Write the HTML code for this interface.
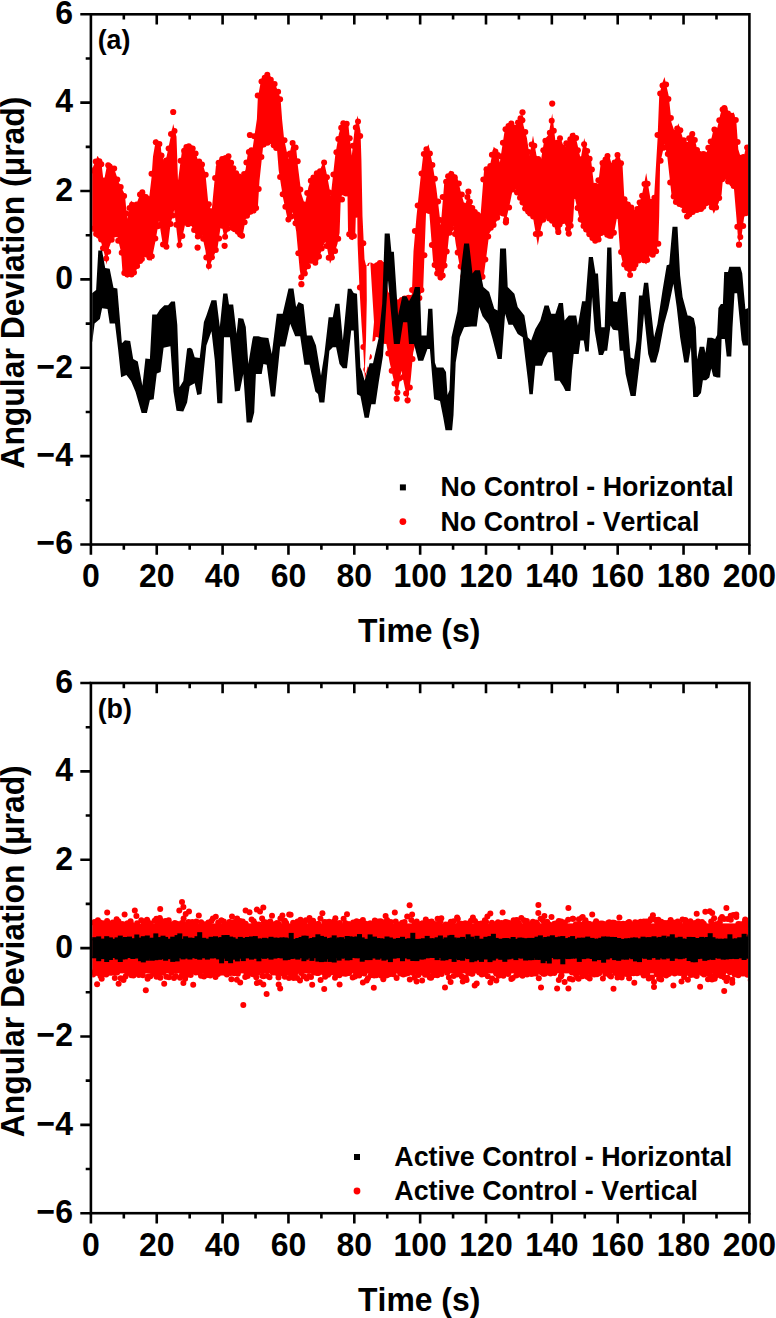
<!DOCTYPE html>
<html><head><meta charset="utf-8"><title>Angular Deviation</title>
<style>html,body{margin:0;padding:0;background:#fff;width:776px;height:1318px;overflow:hidden}svg{display:block}text{font-family:"Liberation Sans",sans-serif;font-weight:bold;fill:#000;font-kerning:none}</style>
</head><body>
<svg width="776" height="1318" viewBox="0 0 776 1318">
<rect width="776" height="1318" fill="#fff"/>
<defs><clipPath id="ca"><rect x="92.2" y="15.6" width="655.9" height="527.6"/></clipPath>
<clipPath id="cb"><rect x="92.2" y="684.3" width="655.9" height="527.6"/></clipPath></defs>
<g clip-path="url(#ca)">
<path d="M91.5 168.7L92.3 168.7L97.6 155.8L101.4 162.6L103.7 182.3L107.5 162.6L113.5 166.4L118.8 182.3L124.9 194.5L127.2 218.8L131.0 200.6L135.5 206.6L141.6 189.9L149.2 197.5L151.5 177.8L153.0 156.5L156.0 139.1L160.6 143.7L161.3 152.0L164.4 162.6L166.6 156.5L169.7 141.4L173.2 123.9L176.5 136.8L178.0 180.8L181.8 152.0L184.8 145.2L190.0 144.4L193.2 145.9L197.6 159.0L202.0 161.6L205.4 173.0L208.1 200.9L211.6 211.4L215.9 166.0L219.4 159.0L224.6 155.5L229.0 154.7L231.6 162.5L236.9 173.0L242.1 178.2L245.6 169.5L248.2 150.3L252.6 148.5L256.9 118.9L257.8 97.9L261.3 78.7L268.3 72.6L275.2 84.0L280.5 97.9L282.2 120.6L284.0 138.1L288.3 159.0L292.7 139.8L296.2 148.5L297.9 166.0L301.4 193.9L304.9 204.4L308.4 186.9L311.9 176.5L317.1 173.0L318.6 173.0L323.9 160.8L327.3 176.5L330.8 195.7L335.2 155.5L338.7 134.6L342.2 121.5L348.3 123.2L349.2 132.8L351.8 155.5L354.4 131.1L357.5 115.4L360.5 131.1L361.4 159.0L362.5 216.3L364.5 259.3L366.5 267.3L368.5 267.3L370.3 263.3L373.4 265.3L381.7 260.3L384.0 263.3L388.0 291.3L393.0 301.3L398.4 300.3L404.0 297.3L409.0 295.3L411.8 294.8L413.5 251.3L416.5 216.3L420.7 176.3L423.3 153.8L428.5 144.2L432.9 166.0L436.4 188.7L438.1 202.6L440.8 225.3L444.2 183.4L446.0 180.0L450.1 170.4L457.1 176.5L461.4 193.9L464.9 206.1L468.4 193.0L471.0 203.5L476.3 211.4L480.6 214.8L484.1 169.5L490.2 164.3L493.7 146.8L497.2 150.3L499.8 162.5L505.1 127.6L510.3 120.6L515.5 125.9L522.5 113.6L523.4 125.0L526.9 138.1L529.5 155.5L533.0 135.5L536.5 155.5L540.8 160.8L544.3 139.8L548.7 134.6L552.2 113.6L555.7 143.3L560.0 136.3L564.4 148.5L568.8 138.1L573.1 132.8L574.6 132.8L577.2 143.3L580.7 159.0L584.2 138.1L587.7 152.0L591.2 160.8L593.8 183.4L598.2 183.4L600.8 162.5L608.6 152.9L612.1 166.0L618.2 152.0L622.6 166.0L624.3 197.4L631.3 206.1L635.7 211.4L641.8 195.7L646.2 173.0L650.5 199.1L654.0 199.1L657.5 139.8L659.2 96.2L661.9 84.0L664.5 77.0L668.8 96.2L671.5 122.4L675.0 132.8L678.4 123.3L682.8 138.1L687.2 145.1L690.0 132.6L693.2 131.3L695.2 140.3L697.1 149.3L699.7 153.2L702.9 151.9L706.1 153.2L709.3 145.4L711.9 136.4L713.8 127.4L717.1 128.7L719.7 117.1L722.2 106.8L727.4 107.4L728.7 114.5L733.8 112.6L736.4 122.2L738.3 149.3L740.3 155.8L744.1 155.8L745.4 149.3L748.2 148.0L748.2 215.0L746.7 212.5L744.1 217.6L741.6 235.7L739.0 243.4L737.7 234.4L736.4 217.6L733.8 186.7L728.7 184.1L724.8 177.7L722.9 178.9L721.6 194.4L718.4 203.4L713.8 213.7L711.3 207.3L706.8 203.4L701.6 210.5L695.2 212.5L690.0 216.3L687.2 215.7L681.9 207.0L675.8 203.5L671.5 194.8L667.1 154.7L664.5 144.2L660.1 163.4L659.2 215.7L658.4 241.9L654.9 257.6L650.5 254.1L646.2 264.6L641.8 259.4L634.8 267.2L629.6 274.2L623.5 266.3L620.0 250.6L617.4 215.7L613.0 238.4L607.8 238.4L603.4 231.4L598.2 241.9L593.8 241.9L587.7 234.9L579.9 221.0L574.6 196.5L573.1 221.0L568.8 232.3L562.7 219.2L558.3 230.6L552.2 222.7L545.2 215.7L541.2 227.1L537.8 245.5L533.0 217.5L526.0 212.2L519.0 198.3L513.8 184.3L510.3 201.8L505.9 221.0L501.6 212.2L494.3 225.4L489.2 233.8L486.7 253.9L483.4 279.0L476.0 281.7L470.0 283.7L465.8 289.1L459.9 267.3L455.7 243.7L453.2 225.7L449.0 235.7L446.5 260.7L441.8 280.7L436.4 274.7L433.0 260.7L429.0 208.7L426.0 213.7L423.2 288.7L419.9 295.8L416.5 339.3L413.2 352.7L410.7 379.7L407.6 400.7L404.0 383.7L401.4 370.7L396.7 398.7L394.7 384.6L389.7 362.8L386.4 344.3L383.0 338.7L376.0 333.7L371.7 340.7L367.0 368.7L365.0 380.7L363.5 353.7L361.5 323.7L359.5 288.7L357.6 243.7L357.3 216.7L355.8 216.7L355.3 234.7L352.8 240.2L350.0 238.7L348.0 230.7L347.5 196.7L345.5 192.7L342.0 194.7L340.6 203.3L339.6 233.0L337.5 243.7L334.2 254.2L333.4 255.9L330.0 263.7L325.6 240.2L321.0 252.2L317.1 264.6L310.1 262.0L306.7 270.7L301.4 279.7L299.7 269.8L296.2 231.4L292.7 212.2L288.3 222.7L283.1 198.3L278.7 170.4L277.0 149.4L270.0 142.5L263.0 147.7L259.5 180.8L257.8 208.8L252.6 212.2L245.6 219.2L242.1 239.3L235.1 231.4L229.9 226.2L224.6 238.7L221.2 222.7L217.7 247.1L211.6 261.1L208.1 270.7L205.4 250.6L202.0 234.9L197.6 238.7L195.0 233.2L190.0 222.2L185.6 222.2L182.6 235.9L178.8 249.5L174.2 210.1L170.4 225.3L167.4 249.5L162.8 245.0L159.0 220.7L155.3 242.0L151.5 260.9L145.4 255.6L140.1 263.2L134.0 274.6L127.2 277.6L122.6 273.8L121.1 252.6L117.3 236.6L112.8 237.4L109.0 248.0L106.7 264.7L104.4 254.1L100.6 240.4L96.8 235.9L92.3 229.8L91.5 229.7Z" fill="#f00"/>
<g fill="#f00"><circle cx="92.8" cy="170.4" r="3"/><circle cx="95.7" cy="161.6" r="3"/><circle cx="99.4" cy="161.2" r="3"/><circle cx="101.3" cy="164.2" r="3"/><circle cx="104.1" cy="180.4" r="3"/><circle cx="108.2" cy="165.3" r="3"/><circle cx="109.7" cy="166.5" r="3"/><circle cx="114.2" cy="168.5" r="3"/><circle cx="117.3" cy="179.4" r="3"/><circle cx="120.7" cy="187.1" r="3"/><circle cx="124.1" cy="195.9" r="3"/><circle cx="126.4" cy="213.4" r="3"/><circle cx="129.5" cy="208.1" r="3"/><circle cx="132.0" cy="204.8" r="3"/><circle cx="135.6" cy="208.4" r="3"/><circle cx="136.6" cy="204.6" r="3"/><circle cx="140.0" cy="194.5" r="3"/><circle cx="142.3" cy="192.3" r="3"/><circle cx="145.8" cy="197.0" r="3"/><circle cx="148.2" cy="198.9" r="3"/><circle cx="151.5" cy="173.7" r="3"/><circle cx="155.8" cy="142.2" r="3"/><circle cx="159.4" cy="144.1" r="3"/><circle cx="161.5" cy="155.6" r="3"/><circle cx="163.8" cy="164.1" r="3"/><circle cx="166.1" cy="160.4" r="3"/><circle cx="168.6" cy="148.6" r="3"/><circle cx="171.0" cy="133.9" r="3"/><circle cx="174.5" cy="130.9" r="3"/><circle cx="177.6" cy="182.8" r="3"/><circle cx="180.6" cy="160.8" r="3"/><circle cx="184.1" cy="150.8" r="3"/><circle cx="186.4" cy="146.9" r="3"/><circle cx="188.8" cy="146.3" r="3"/><circle cx="192.7" cy="148.5" r="3"/><circle cx="195.6" cy="153.5" r="3"/><circle cx="199.2" cy="161.5" r="3"/><circle cx="202.0" cy="164.4" r="3"/><circle cx="205.7" cy="174.8" r="3"/><circle cx="208.8" cy="204.2" r="3"/><circle cx="211.5" cy="211.2" r="3"/><circle cx="215.1" cy="178.1" r="3"/><circle cx="218.6" cy="162.7" r="3"/><circle cx="222.2" cy="159.0" r="3"/><circle cx="225.1" cy="158.3" r="3"/><circle cx="228.5" cy="156.2" r="3"/><circle cx="231.1" cy="162.7" r="3"/><circle cx="233.4" cy="168.2" r="3"/><circle cx="236.1" cy="173.3" r="3"/><circle cx="239.2" cy="176.4" r="3"/><circle cx="242.6" cy="178.8" r="3"/><circle cx="244.1" cy="174.1" r="3"/><circle cx="246.4" cy="162.6" r="3"/><circle cx="248.9" cy="151.9" r="3"/><circle cx="251.4" cy="150.2" r="3"/><circle cx="254.2" cy="136.2" r="3"/><circle cx="257.7" cy="95.4" r="3"/><circle cx="261.5" cy="81.5" r="3"/><circle cx="264.7" cy="77.7" r="3"/><circle cx="267.3" cy="74.8" r="3"/><circle cx="270.8" cy="79.8" r="3"/><circle cx="274.6" cy="83.9" r="3"/><circle cx="278.1" cy="91.7" r="3"/><circle cx="280.1" cy="99.3" r="3"/><circle cx="284.5" cy="140.3" r="3"/><circle cx="287.2" cy="155.0" r="3"/><circle cx="289.9" cy="153.6" r="3"/><circle cx="292.6" cy="142.9" r="3"/><circle cx="295.6" cy="147.6" r="3"/><circle cx="297.7" cy="161.3" r="3"/><circle cx="300.3" cy="189.5" r="3"/><circle cx="304.4" cy="204.6" r="3"/><circle cx="307.2" cy="193.1" r="3"/><circle cx="310.8" cy="180.8" r="3"/><circle cx="313.4" cy="177.4" r="3"/><circle cx="316.8" cy="173.2" r="3"/><circle cx="320.0" cy="171.3" r="3"/><circle cx="324.1" cy="162.6" r="3"/><circle cx="326.9" cy="177.2" r="3"/><circle cx="329.5" cy="192.5" r="3"/><circle cx="333.4" cy="174.6" r="3"/><circle cx="336.4" cy="152.2" r="3"/><circle cx="338.3" cy="139.1" r="3"/><circle cx="341.2" cy="127.8" r="3"/><circle cx="343.3" cy="123.2" r="3"/><circle cx="346.7" cy="123.7" r="3"/><circle cx="349.7" cy="138.2" r="3"/><circle cx="352.8" cy="145.7" r="3"/><circle cx="355.8" cy="127.4" r="3"/><circle cx="358.0" cy="121.5" r="3"/><circle cx="360.2" cy="136.1" r="3"/><circle cx="363.3" cy="243.2" r="3"/><circle cx="366.4" cy="268.6" r="3"/><circle cx="370.3" cy="265.4" r="3"/><circle cx="372.8" cy="266.8" r="3"/><circle cx="375.4" cy="266.3" r="3"/><circle cx="377.5" cy="265.1" r="3"/><circle cx="379.9" cy="262.9" r="3"/><circle cx="383.7" cy="264.9" r="3"/><circle cx="385.4" cy="276.5" r="3"/><circle cx="389.6" cy="295.8" r="3"/><circle cx="391.0" cy="300.4" r="3"/><circle cx="394.7" cy="303.2" r="3"/><circle cx="398.4" cy="302.3" r="3"/><circle cx="401.8" cy="300.1" r="3"/><circle cx="404.7" cy="298.6" r="3"/><circle cx="408.5" cy="297.7" r="3"/><circle cx="412.1" cy="290.1" r="3"/><circle cx="414.9" cy="231.0" r="3"/><circle cx="417.7" cy="205.4" r="3"/><circle cx="421.5" cy="173.6" r="3"/><circle cx="423.8" cy="153.9" r="3"/><circle cx="426.4" cy="149.2" r="3"/><circle cx="429.9" cy="153.4" r="3"/><circle cx="432.4" cy="165.0" r="3"/><circle cx="434.9" cy="178.8" r="3"/><circle cx="438.1" cy="201.5" r="3"/><circle cx="440.1" cy="220.0" r="3"/><circle cx="442.7" cy="196.9" r="3"/><circle cx="446.1" cy="181.8" r="3"/><circle cx="448.1" cy="176.2" r="3"/><circle cx="451.3" cy="174.1" r="3"/><circle cx="454.7" cy="177.3" r="3"/><circle cx="458.8" cy="183.5" r="3"/><circle cx="461.8" cy="194.6" r="3"/><circle cx="463.8" cy="205.5" r="3"/><circle cx="467.4" cy="197.0" r="3"/><circle cx="469.9" cy="201.8" r="3"/><circle cx="472.3" cy="207.9" r="3"/><circle cx="474.8" cy="212.0" r="3"/><circle cx="477.4" cy="214.4" r="3"/><circle cx="479.8" cy="216.2" r="3"/><circle cx="483.3" cy="179.4" r="3"/><circle cx="486.5" cy="169.3" r="3"/><circle cx="490.3" cy="166.1" r="3"/><circle cx="491.9" cy="154.7" r="3"/><circle cx="495.4" cy="151.4" r="3"/><circle cx="497.8" cy="155.0" r="3"/><circle cx="501.1" cy="156.5" r="3"/><circle cx="502.9" cy="142.7" r="3"/><circle cx="505.5" cy="129.3" r="3"/><circle cx="508.5" cy="126.1" r="3"/><circle cx="511.4" cy="123.4" r="3"/><circle cx="514.7" cy="127.7" r="3"/><circle cx="518.0" cy="122.5" r="3"/><circle cx="520.5" cy="118.2" r="3"/><circle cx="522.4" cy="120.3" r="3"/><circle cx="525.3" cy="132.0" r="3"/><circle cx="528.6" cy="151.9" r="3"/><circle cx="531.6" cy="144.5" r="3"/><circle cx="534.3" cy="145.8" r="3"/><circle cx="538.2" cy="159.0" r="3"/><circle cx="540.0" cy="161.5" r="3"/><circle cx="543.3" cy="150.2" r="3"/><circle cx="545.4" cy="140.8" r="3"/><circle cx="549.8" cy="132.8" r="3"/><circle cx="551.7" cy="120.8" r="3"/><circle cx="553.8" cy="130.8" r="3"/><circle cx="556.8" cy="142.7" r="3"/><circle cx="560.0" cy="138.3" r="3"/><circle cx="562.9" cy="147.4" r="3"/><circle cx="566.3" cy="143.3" r="3"/><circle cx="570.3" cy="139.3" r="3"/><circle cx="572.7" cy="135.7" r="3"/><circle cx="576.1" cy="138.1" r="3"/><circle cx="577.9" cy="150.3" r="3"/><circle cx="581.1" cy="159.3" r="3"/><circle cx="584.1" cy="144.2" r="3"/><circle cx="587.2" cy="151.1" r="3"/><circle cx="589.6" cy="158.8" r="3"/><circle cx="591.9" cy="169.5" r="3"/><circle cx="594.9" cy="185.8" r="3"/><circle cx="598.4" cy="180.2" r="3"/><circle cx="602.5" cy="163.1" r="3"/><circle cx="605.5" cy="159.5" r="3"/><circle cx="607.5" cy="155.9" r="3"/><circle cx="611.0" cy="165.8" r="3"/><circle cx="614.6" cy="162.5" r="3"/><circle cx="617.5" cy="155.0" r="3"/><circle cx="621.0" cy="163.3" r="3"/><circle cx="624.5" cy="199.3" r="3"/><circle cx="627.9" cy="204.5" r="3"/><circle cx="631.3" cy="207.4" r="3"/><circle cx="634.6" cy="212.8" r="3"/><circle cx="637.3" cy="208.9" r="3"/><circle cx="639.6" cy="202.6" r="3"/><circle cx="642.1" cy="195.8" r="3"/><circle cx="644.5" cy="184.0" r="3"/><circle cx="647.6" cy="183.8" r="3"/><circle cx="651.4" cy="201.9" r="3"/><circle cx="654.4" cy="197.7" r="3"/><circle cx="657.5" cy="135.1" r="3"/><circle cx="660.2" cy="93.6" r="3"/><circle cx="662.5" cy="85.6" r="3"/><circle cx="666.1" cy="84.6" r="3"/><circle cx="668.4" cy="99.0" r="3"/><circle cx="670.9" cy="118.1" r="3"/><circle cx="674.0" cy="132.7" r="3"/><circle cx="677.2" cy="128.6" r="3"/><circle cx="680.3" cy="130.3" r="3"/><circle cx="683.7" cy="140.3" r="3"/><circle cx="685.9" cy="144.5" r="3"/><circle cx="689.1" cy="138.2" r="3"/><circle cx="692.3" cy="134.0" r="3"/><circle cx="694.8" cy="140.1" r="3"/><circle cx="697.0" cy="150.0" r="3"/><circle cx="699.0" cy="153.7" r="3"/><circle cx="703.2" cy="154.0" r="3"/><circle cx="704.5" cy="154.4" r="3"/><circle cx="708.3" cy="147.8" r="3"/><circle cx="710.7" cy="141.4" r="3"/><circle cx="714.4" cy="129.6" r="3"/><circle cx="717.3" cy="130.8" r="3"/><circle cx="719.3" cy="120.3" r="3"/><circle cx="722.6" cy="109.5" r="3"/><circle cx="724.4" cy="108.1" r="3"/><circle cx="728.0" cy="113.6" r="3"/><circle cx="731.5" cy="115.8" r="3"/><circle cx="735.8" cy="119.9" r="3"/><circle cx="737.6" cy="142.1" r="3"/><circle cx="739.9" cy="157.7" r="3"/><circle cx="743.4" cy="156.9" r="3"/><circle cx="747.1" cy="147.4" r="3"/><circle cx="92.9" cy="228.8" r="3"/><circle cx="96.1" cy="234.0" r="3"/><circle cx="98.9" cy="235.7" r="3"/><circle cx="101.1" cy="239.6" r="3"/><circle cx="103.0" cy="248.2" r="3"/><circle cx="106.2" cy="258.5" r="3"/><circle cx="108.2" cy="251.7" r="3"/><circle cx="111.7" cy="239.7" r="3"/><circle cx="113.5" cy="234.8" r="3"/><circle cx="116.6" cy="234.2" r="3"/><circle cx="118.2" cy="240.8" r="3"/><circle cx="121.7" cy="252.7" r="3"/><circle cx="124.3" cy="272.9" r="3"/><circle cx="127.3" cy="274.5" r="3"/><circle cx="131.5" cy="274.6" r="3"/><circle cx="134.0" cy="272.4" r="3"/><circle cx="137.1" cy="266.0" r="3"/><circle cx="140.1" cy="261.1" r="3"/><circle cx="141.9" cy="259.0" r="3"/><circle cx="146.3" cy="254.6" r="3"/><circle cx="149.4" cy="257.5" r="3"/><circle cx="151.8" cy="256.2" r="3"/><circle cx="155.3" cy="238.5" r="3"/><circle cx="157.9" cy="226.3" r="3"/><circle cx="159.8" cy="225.0" r="3"/><circle cx="163.0" cy="244.5" r="3"/><circle cx="166.4" cy="246.7" r="3"/><circle cx="170.6" cy="224.0" r="3"/><circle cx="172.7" cy="215.4" r="3"/><circle cx="176.3" cy="224.8" r="3"/><circle cx="179.5" cy="245.0" r="3"/><circle cx="182.3" cy="236.1" r="3"/><circle cx="185.6" cy="220.3" r="3"/><circle cx="187.9" cy="219.4" r="3"/><circle cx="191.1" cy="223.2" r="3"/><circle cx="194.1" cy="230.0" r="3"/><circle cx="197.8" cy="236.4" r="3"/><circle cx="199.7" cy="235.4" r="3"/><circle cx="203.2" cy="238.7" r="3"/><circle cx="206.3" cy="257.6" r="3"/><circle cx="208.9" cy="266.1" r="3"/><circle cx="211.9" cy="257.3" r="3"/><circle cx="215.8" cy="250.1" r="3"/><circle cx="219.1" cy="238.4" r="3"/><circle cx="222.2" cy="225.7" r="3"/><circle cx="225.1" cy="236.7" r="3"/><circle cx="227.5" cy="228.8" r="3"/><circle cx="230.4" cy="223.5" r="3"/><circle cx="232.6" cy="228.0" r="3"/><circle cx="234.6" cy="229.2" r="3"/><circle cx="237.8" cy="231.8" r="3"/><circle cx="240.1" cy="234.5" r="3"/><circle cx="242.1" cy="235.8" r="3"/><circle cx="244.6" cy="222.3" r="3"/><circle cx="247.0" cy="215.7" r="3"/><circle cx="250.5" cy="211.8" r="3"/><circle cx="253.6" cy="210.6" r="3"/><circle cx="256.1" cy="208.1" r="3"/><circle cx="258.7" cy="189.0" r="3"/><circle cx="261.4" cy="157.0" r="3"/><circle cx="263.7" cy="144.5" r="3"/><circle cx="267.5" cy="142.8" r="3"/><circle cx="270.4" cy="141.0" r="3"/><circle cx="273.7" cy="145.2" r="3"/><circle cx="276.2" cy="147.9" r="3"/><circle cx="280.1" cy="177.0" r="3"/><circle cx="282.7" cy="194.2" r="3"/><circle cx="285.4" cy="206.8" r="3"/><circle cx="288.4" cy="219.5" r="3"/><circle cx="291.4" cy="216.5" r="3"/><circle cx="295.5" cy="223.2" r="3"/><circle cx="298.3" cy="253.2" r="3"/><circle cx="301.3" cy="277.2" r="3"/><circle cx="304.8" cy="273.4" r="3"/><circle cx="308.0" cy="266.3" r="3"/><circle cx="310.6" cy="260.7" r="3"/><circle cx="312.5" cy="260.4" r="3"/><circle cx="315.3" cy="262.7" r="3"/><circle cx="319.0" cy="256.5" r="3"/><circle cx="321.7" cy="248.6" r="3"/><circle cx="325.0" cy="239.7" r="3"/><circle cx="326.6" cy="246.0" r="3"/><circle cx="328.7" cy="257.7" r="3"/><circle cx="331.9" cy="257.5" r="3"/><circle cx="335.1" cy="251.1" r="3"/><circle cx="338.2" cy="238.8" r="3"/><circle cx="342.0" cy="199.4" r="3"/><circle cx="343.4" cy="192.5" r="3"/><circle cx="346.0" cy="193.6" r="3"/><circle cx="349.2" cy="234.3" r="3"/><circle cx="351.8" cy="236.7" r="3"/><circle cx="353.9" cy="235.9" r="3"/><circle cx="356.2" cy="214.8" r="3"/><circle cx="359.9" cy="287.6" r="3"/><circle cx="363.4" cy="347.0" r="3"/><circle cx="366.3" cy="369.6" r="3"/><circle cx="368.9" cy="356.7" r="3"/><circle cx="372.5" cy="338.6" r="3"/><circle cx="374.7" cy="334.5" r="3"/><circle cx="377.0" cy="334.1" r="3"/><circle cx="379.7" cy="335.0" r="3"/><circle cx="382.3" cy="336.9" r="3"/><circle cx="385.1" cy="341.0" r="3"/><circle cx="388.3" cy="353.5" r="3"/><circle cx="391.7" cy="370.8" r="3"/><circle cx="394.5" cy="383.4" r="3"/><circle cx="397.4" cy="392.4" r="3"/><circle cx="399.3" cy="378.4" r="3"/><circle cx="403.4" cy="377.1" r="3"/><circle cx="406.1" cy="393.6" r="3"/><circle cx="409.8" cy="387.5" r="3"/><circle cx="412.5" cy="359.0" r="3"/><circle cx="415.3" cy="342.8" r="3"/><circle cx="417.2" cy="325.0" r="3"/><circle cx="419.4" cy="298.0" r="3"/><circle cx="421.4" cy="290.1" r="3"/><circle cx="424.4" cy="255.3" r="3"/><circle cx="426.8" cy="210.1" r="3"/><circle cx="429.1" cy="211.1" r="3"/><circle cx="431.9" cy="244.9" r="3"/><circle cx="434.6" cy="265.0" r="3"/><circle cx="437.2" cy="273.5" r="3"/><circle cx="440.5" cy="277.6" r="3"/><circle cx="442.7" cy="275.4" r="3"/><circle cx="444.5" cy="265.4" r="3"/><circle cx="446.7" cy="251.6" r="3"/><circle cx="449.5" cy="232.8" r="3"/><circle cx="451.2" cy="228.2" r="3"/><circle cx="455.0" cy="234.0" r="3"/><circle cx="457.7" cy="252.6" r="3"/><circle cx="460.7" cy="266.6" r="3"/><circle cx="463.4" cy="276.2" r="3"/><circle cx="465.3" cy="286.0" r="3"/><circle cx="468.8" cy="282.6" r="3"/><circle cx="471.2" cy="281.5" r="3"/><circle cx="473.9" cy="280.3" r="3"/><circle cx="476.8" cy="282.8" r="3"/><circle cx="479.1" cy="278.6" r="3"/><circle cx="482.5" cy="276.8" r="3"/><circle cx="485.3" cy="259.6" r="3"/><circle cx="488.2" cy="236.5" r="3"/><circle cx="490.8" cy="227.8" r="3"/><circle cx="493.6" cy="225.0" r="3"/><circle cx="497.2" cy="217.7" r="3"/><circle cx="500.3" cy="212.4" r="3"/><circle cx="503.0" cy="213.4" r="3"/><circle cx="506.1" cy="219.8" r="3"/><circle cx="509.1" cy="207.6" r="3"/><circle cx="512.7" cy="189.5" r="3"/><circle cx="515.1" cy="186.6" r="3"/><circle cx="517.0" cy="192.4" r="3"/><circle cx="520.0" cy="197.8" r="3"/><circle cx="522.5" cy="202.4" r="3"/><circle cx="525.1" cy="208.4" r="3"/><circle cx="528.1" cy="211.6" r="3"/><circle cx="530.0" cy="213.5" r="3"/><circle cx="533.2" cy="216.4" r="3"/><circle cx="535.8" cy="234.1" r="3"/><circle cx="540.0" cy="233.7" r="3"/><circle cx="543.2" cy="219.8" r="3"/><circle cx="546.3" cy="215.7" r="3"/><circle cx="549.1" cy="218.6" r="3"/><circle cx="552.0" cy="220.7" r="3"/><circle cx="555.0" cy="224.4" r="3"/><circle cx="557.8" cy="227.9" r="3"/><circle cx="559.6" cy="224.6" r="3"/><circle cx="561.9" cy="221.3" r="3"/><circle cx="564.0" cy="220.8" r="3"/><circle cx="568.0" cy="229.0" r="3"/><circle cx="570.7" cy="225.7" r="3"/><circle cx="574.5" cy="195.9" r="3"/><circle cx="577.6" cy="208.1" r="3"/><circle cx="580.7" cy="219.6" r="3"/><circle cx="583.5" cy="226.1" r="3"/><circle cx="586.1" cy="229.5" r="3"/><circle cx="589.3" cy="234.2" r="3"/><circle cx="592.4" cy="237.9" r="3"/><circle cx="595.2" cy="240.8" r="3"/><circle cx="598.6" cy="239.6" r="3"/><circle cx="601.2" cy="233.1" r="3"/><circle cx="605.4" cy="232.3" r="3"/><circle cx="607.2" cy="234.8" r="3"/><circle cx="610.5" cy="235.8" r="3"/><circle cx="613.9" cy="232.7" r="3"/><circle cx="617.6" cy="215.9" r="3"/><circle cx="621.1" cy="251.9" r="3"/><circle cx="624.2" cy="264.4" r="3"/><circle cx="627.1" cy="268.1" r="3"/><circle cx="630.1" cy="275.0" r="3"/><circle cx="633.6" cy="268.3" r="3"/><circle cx="635.4" cy="264.7" r="3"/><circle cx="638.8" cy="260.6" r="3"/><circle cx="641.0" cy="258.3" r="3"/><circle cx="643.9" cy="260.3" r="3"/><circle cx="647.2" cy="260.1" r="3"/><circle cx="650.5" cy="252.2" r="3"/><circle cx="652.6" cy="254.8" r="3"/><circle cx="656.1" cy="251.2" r="3"/><circle cx="658.3" cy="243.7" r="3"/><circle cx="660.6" cy="160.8" r="3"/><circle cx="663.6" cy="147.8" r="3"/><circle cx="667.8" cy="153.9" r="3"/><circle cx="670.2" cy="182.4" r="3"/><circle cx="673.7" cy="196.5" r="3"/><circle cx="675.9" cy="202.1" r="3"/><circle cx="679.4" cy="204.1" r="3"/><circle cx="682.2" cy="205.1" r="3"/><circle cx="684.5" cy="210.3" r="3"/><circle cx="687.0" cy="216.6" r="3"/><circle cx="689.3" cy="214.6" r="3"/><circle cx="692.7" cy="212.1" r="3"/><circle cx="696.9" cy="209.9" r="3"/><circle cx="698.9" cy="208.7" r="3"/><circle cx="701.0" cy="208.9" r="3"/><circle cx="703.3" cy="206.8" r="3"/><circle cx="706.0" cy="203.2" r="3"/><circle cx="708.9" cy="202.3" r="3"/><circle cx="711.8" cy="207.2" r="3"/><circle cx="716.1" cy="207.6" r="3"/><circle cx="719.2" cy="198.0" r="3"/><circle cx="722.2" cy="179.2" r="3"/><circle cx="725.0" cy="176.8" r="3"/><circle cx="728.1" cy="181.6" r="3"/><circle cx="732.3" cy="183.6" r="3"/><circle cx="733.7" cy="185.9" r="3"/><circle cx="737.3" cy="226.7" r="3"/><circle cx="740.3" cy="236.9" r="3"/><circle cx="743.2" cy="226.0" r="3"/><circle cx="745.7" cy="213.2" r="3"/></g>
<g fill="#f00"><circle cx="173.2" cy="112" r="3.1"/><circle cx="249.9" cy="135" r="3.1"/><circle cx="224.6" cy="245.8" r="3.1"/><circle cx="197.6" cy="247.6" r="3.1"/><circle cx="301.4" cy="284.2" r="3.1"/><circle cx="522.5" cy="112.3" r="3.1"/><circle cx="552.2" cy="103.6" r="3.1"/><circle cx="468.4" cy="191.7" r="3.1"/><circle cx="505.9" cy="222.3" r="3.1"/><circle cx="558.3" cy="231.9" r="3.1"/><circle cx="568.8" cy="233.6" r="3.1"/><circle cx="739" cy="244.7" r="3.1"/><circle cx="396.7" cy="398.7" r="3.1"/><circle cx="407.6" cy="400.3" r="3.1"/><circle cx="188" cy="224" r="3.1"/></g>
<path d="M366.5 266.0L368.5 266.0L370.3 262.0L372.0 290.0L374.0 322.0L372.0 345.0L368.0 365.0L366.0 373.0L364.8 372.0L366.0 340.0L366.8 300.0Z" fill="#fff"/>
<path d="M91.5 293.1L92.3 293.1L96.1 290.1L98.3 250.6L102.1 250.6L105.2 268.1L109.7 268.8L113.5 287.8L117.3 288.6L121.9 343.2L124.9 340.2L130.2 340.9L133.2 359.1L137.8 361.4L142.4 385.7L145.4 358.4L149.9 359.1L152.2 314.4L156.8 314.4L159.8 309.8L164.4 305.3L168.1 305.3L171.2 301.5L175.0 301.5L177.3 325.0L179.5 387.2L183.3 381.1L187.1 348.5L190.0 347.7L192.2 348.9L194.7 357.3L199.7 358.1L203.9 322.1L206.4 315.4L211.5 300.3L216.5 300.3L219.8 327.1L223.2 293.6L227.4 293.6L229.0 304.5L233.2 304.5L236.6 333.8L238.3 317.9L243.3 318.7L245.8 327.1L248.3 364.0L252.5 338.8L253.3 336.3L258.4 336.3L261.7 337.2L268.4 338.0L271.8 353.9L276.8 313.7L282.7 313.7L288.5 288.6L293.5 288.6L296.1 307.0L298.6 302.0L303.6 304.5L306.9 335.5L312.0 335.5L316.0 345.6L321.0 375.8L324.4 354.0L328.6 317.2L332.8 317.2L335.3 303.8L339.5 303.8L342.8 340.6L347.8 288.7L351.2 288.7L353.7 292.9L357.0 293.7L360.4 367.4L362.1 371.6L364.6 380.8L369.6 363.2L373.0 363.2L378.8 337.3L382.2 303.8L384.7 233.4L389.7 233.4L391.4 251.8L393.9 251.8L398.1 315.5L402.3 296.2L406.5 296.2L409.0 301.3L413.2 293.7L414.8 287.0L419.9 287.0L421.5 335.6L426.6 335.6L428.2 308.8L432.4 308.8L434.9 362.4L436.6 367.4L443.3 367.4L446.0 372.0L447.5 395.0L449.5 390.0L451.5 337.3L457.4 311.3L460.8 270.3L464.1 243.5L469.1 243.5L472.5 273.6L475.0 270.3L480.0 270.3L483.4 287.0L489.2 292.0L494.3 308.8L497.6 310.5L500.1 248.5L506.0 248.5L507.7 287.0L514.4 293.7L517.7 307.1L524.4 315.5L527.8 337.3L531.1 340.6L535.3 328.9L540.3 320.5L544.5 305.4L548.7 305.4L551.2 313.8L555.4 313.8L558.8 302.9L563.0 302.9L564.6 320.5L568.8 315.5L574.0 315.5L576.2 315.5L577.9 325.5L582.1 301.3L585.4 301.3L588.8 256.9L592.9 256.9L595.5 273.6L598.0 273.6L601.3 327.2L604.7 327.2L607.2 247.6L611.4 247.6L613.0 301.3L617.2 302.1L620.6 292.0L625.6 292.0L629.0 337.3L630.6 357.4L634.0 359.0L636.5 340.6L639.0 295.4L642.4 295.4L644.0 282.8L648.2 282.8L650.7 307.1L654.1 337.3L657.4 323.9L662.5 290.4L666.7 265.2L669.2 264.4L672.5 226.7L677.5 226.7L680.1 275.3L682.6 297.1L687.6 315.5L690.0 315.7L693.9 318.3L695.8 327.3L697.1 359.6L699.7 346.7L704.2 346.7L705.5 353.1L707.4 337.7L711.9 337.7L715.1 339.0L717.1 335.1L718.4 308.0L720.9 304.1L722.9 304.1L724.2 271.9L728.0 271.9L729.3 266.8L740.3 266.8L742.2 273.2L744.1 295.1L745.4 309.3L748.2 308.0L748.2 345.4L742.9 345.4L741.6 340.2L737.1 293.2L734.5 293.2L732.5 327.3L731.3 356.4L726.7 356.4L724.8 339.0L721.6 339.0L720.3 377.6L717.1 377.6L713.2 376.3L711.3 368.6L709.3 377.6L706.1 380.2L702.9 380.2L701.0 393.1L697.7 397.0L693.2 397.0L690.9 347.3L688.4 362.4L684.2 362.4L680.1 337.3L676.7 307.1L673.4 283.7L668.3 308.8L664.1 323.9L659.1 350.7L655.8 362.4L650.7 362.4L648.2 354.0L644.0 313.8L639.9 360.7L635.7 395.9L630.6 395.9L625.6 374.1L623.1 350.7L619.7 350.7L618.1 330.6L613.0 329.7L610.5 325.5L607.2 350.7L604.7 350.7L603.0 354.9L598.8 354.9L594.6 330.6L592.1 297.1L588.8 351.5L585.4 351.5L583.7 340.6L580.4 340.6L578.7 354.0L573.7 354.0L572.0 370.8L570.5 390.9L565.5 390.9L563.0 385.9L559.6 380.8L554.6 380.8L552.1 352.3L547.9 352.3L544.5 358.2L542.0 365.8L535.3 365.8L532.8 394.2L529.4 394.2L527.8 379.2L522.7 337.3L517.7 333.9L512.7 324.7L508.5 324.7L505.1 313.8L501.8 359.0L497.6 359.0L492.6 338.9L488.4 323.9L482.5 316.3L479.2 307.1L476.7 326.4L471.6 326.4L464.1 327.2L459.9 337.3L455.7 362.4L453.5 415.0L452.1 430.2L445.5 430.2L443.3 417.7L440.0 400.9L434.1 399.3L429.9 349.0L427.4 349.0L423.2 360.7L418.2 360.7L414.0 344.0L409.0 344.0L407.3 322.2L403.1 322.2L399.8 344.0L393.9 344.0L388.0 280.3L383.0 355.7L378.8 381.7L375.5 404.3L371.3 404.3L368.8 417.7L364.6 417.7L360.4 395.9L357.0 394.2L353.7 330.6L351.2 330.6L347.0 368.3L342.8 368.3L339.5 364.1L336.1 347.3L332.8 347.3L329.4 350.7L324.4 402.6L319.4 402.6L318.0 394.1L315.3 391.6L309.5 364.8L304.4 364.8L300.2 336.3L295.2 336.3L290.2 323.8L285.2 346.4L280.1 346.4L275.1 396.6L270.9 396.6L266.7 364.8L263.4 364.0L261.7 374.0L255.9 374.0L254.2 412.6L251.7 422.6L246.6 422.6L243.3 374.0L239.9 390.8L234.9 391.6L229.9 337.2L224.0 337.2L222.3 403.3L217.3 403.3L214.8 360.6L211.5 331.3L206.4 345.5L201.4 394.1L197.2 395.0L194.7 383.2L189.7 386.0L187.1 402.4L183.3 411.5L176.5 410.7L173.5 391.7L170.4 346.2L163.6 347.7L160.6 372.0L156.8 373.5L153.7 399.3L149.9 400.1L146.9 413.0L141.6 413.0L135.5 391.7L131.0 381.1L126.4 375.0L121.1 377.3L118.1 349.3L115.0 323.5L109.7 323.5L107.5 309.0L102.1 308.3L99.9 318.9L94.6 323.5L92.3 341.7L91.5 341.7Z" fill="#000"/>
</g>
<g clip-path="url(#cb)">
<rect x="90.9" y="923.4" width="658.5" height="50" fill="#f00"/>
<g fill="#f00"><circle cx="93.7" cy="922.4" r="3"/><circle cx="93.1" cy="974.5" r="3"/><circle cx="94.9" cy="922.0" r="3"/><circle cx="93.5" cy="972.6" r="3"/><circle cx="97.9" cy="920.3" r="3"/><circle cx="97.1" cy="984.2" r="3"/><circle cx="97.3" cy="924.5" r="3"/><circle cx="97.3" cy="973.0" r="3"/><circle cx="100.2" cy="922.5" r="3"/><circle cx="100.5" cy="975.9" r="3"/><circle cx="103.0" cy="923.4" r="3"/><circle cx="101.7" cy="978.8" r="3"/><circle cx="104.0" cy="923.4" r="3"/><circle cx="103.3" cy="974.0" r="3"/><circle cx="107.2" cy="912.6" r="3"/><circle cx="106.2" cy="974.5" r="3"/><circle cx="107.1" cy="921.0" r="3"/><circle cx="108.5" cy="972.5" r="3"/><circle cx="109.3" cy="924.1" r="3"/><circle cx="109.4" cy="972.4" r="3"/><circle cx="112.7" cy="922.5" r="3"/><circle cx="111.4" cy="972.7" r="3"/><circle cx="115.0" cy="923.7" r="3"/><circle cx="114.8" cy="978.1" r="3"/><circle cx="115.7" cy="922.8" r="3"/><circle cx="114.9" cy="972.6" r="3"/><circle cx="116.6" cy="919.3" r="3"/><circle cx="117.1" cy="972.5" r="3"/><circle cx="118.4" cy="921.3" r="3"/><circle cx="118.6" cy="983.7" r="3"/><circle cx="122.0" cy="923.9" r="3"/><circle cx="120.6" cy="978.3" r="3"/><circle cx="124.6" cy="914.4" r="3"/><circle cx="123.5" cy="979.9" r="3"/><circle cx="124.4" cy="924.5" r="3"/><circle cx="125.5" cy="976.6" r="3"/><circle cx="127.5" cy="923.3" r="3"/><circle cx="127.2" cy="972.5" r="3"/><circle cx="130.6" cy="921.2" r="3"/><circle cx="129.3" cy="973.0" r="3"/><circle cx="131.4" cy="924.4" r="3"/><circle cx="131.4" cy="975.3" r="3"/><circle cx="134.8" cy="910.4" r="3"/><circle cx="133.5" cy="975.4" r="3"/><circle cx="136.4" cy="915.9" r="3"/><circle cx="135.5" cy="972.3" r="3"/><circle cx="137.1" cy="923.2" r="3"/><circle cx="138.8" cy="975.0" r="3"/><circle cx="141.3" cy="920.2" r="3"/><circle cx="141.2" cy="973.8" r="3"/><circle cx="143.9" cy="922.7" r="3"/><circle cx="142.9" cy="975.3" r="3"/><circle cx="145.6" cy="921.2" r="3"/><circle cx="145.8" cy="990.2" r="3"/><circle cx="147.0" cy="919.8" r="3"/><circle cx="147.6" cy="978.8" r="3"/><circle cx="147.6" cy="921.3" r="3"/><circle cx="148.4" cy="976.5" r="3"/><circle cx="150.6" cy="923.5" r="3"/><circle cx="150.4" cy="976.3" r="3"/><circle cx="154.6" cy="920.7" r="3"/><circle cx="153.2" cy="973.6" r="3"/><circle cx="156.4" cy="918.7" r="3"/><circle cx="155.3" cy="973.9" r="3"/><circle cx="157.7" cy="922.1" r="3"/><circle cx="156.5" cy="976.7" r="3"/><circle cx="157.7" cy="922.4" r="3"/><circle cx="158.3" cy="974.1" r="3"/><circle cx="159.8" cy="918.0" r="3"/><circle cx="160.7" cy="972.5" r="3"/><circle cx="160.6" cy="920.2" r="3"/><circle cx="160.3" cy="977.8" r="3"/><circle cx="162.4" cy="924.5" r="3"/><circle cx="163.2" cy="972.7" r="3"/><circle cx="165.4" cy="921.0" r="3"/><circle cx="164.2" cy="983.7" r="3"/><circle cx="166.7" cy="923.9" r="3"/><circle cx="166.3" cy="976.7" r="3"/><circle cx="168.7" cy="920.3" r="3"/><circle cx="169.0" cy="977.3" r="3"/><circle cx="171.7" cy="924.3" r="3"/><circle cx="171.5" cy="972.7" r="3"/><circle cx="174.8" cy="922.9" r="3"/><circle cx="174.0" cy="977.9" r="3"/><circle cx="177.0" cy="923.8" r="3"/><circle cx="175.8" cy="975.9" r="3"/><circle cx="179.3" cy="910.4" r="3"/><circle cx="180.0" cy="977.8" r="3"/><circle cx="181.8" cy="923.1" r="3"/><circle cx="181.9" cy="975.1" r="3"/><circle cx="183.6" cy="918.6" r="3"/><circle cx="183.5" cy="972.9" r="3"/><circle cx="184.7" cy="924.0" r="3"/><circle cx="185.1" cy="978.8" r="3"/><circle cx="185.7" cy="913.9" r="3"/><circle cx="186.7" cy="974.9" r="3"/><circle cx="188.6" cy="921.9" r="3"/><circle cx="189.2" cy="973.5" r="3"/><circle cx="192.2" cy="923.8" r="3"/><circle cx="190.7" cy="974.9" r="3"/><circle cx="192.4" cy="922.1" r="3"/><circle cx="193.2" cy="984.8" r="3"/><circle cx="196.4" cy="921.6" r="3"/><circle cx="195.8" cy="972.4" r="3"/><circle cx="198.8" cy="915.4" r="3"/><circle cx="199.5" cy="972.7" r="3"/><circle cx="201.1" cy="922.3" r="3"/><circle cx="201.0" cy="975.7" r="3"/><circle cx="203.7" cy="924.5" r="3"/><circle cx="204.0" cy="976.4" r="3"/><circle cx="205.7" cy="924.2" r="3"/><circle cx="205.9" cy="974.8" r="3"/><circle cx="208.4" cy="922.5" r="3"/><circle cx="208.0" cy="974.9" r="3"/><circle cx="211.5" cy="920.9" r="3"/><circle cx="210.3" cy="975.6" r="3"/><circle cx="212.9" cy="918.6" r="3"/><circle cx="212.7" cy="973.6" r="3"/><circle cx="215.8" cy="916.7" r="3"/><circle cx="215.5" cy="976.9" r="3"/><circle cx="218.2" cy="922.6" r="3"/><circle cx="218.0" cy="974.1" r="3"/><circle cx="221.3" cy="920.5" r="3"/><circle cx="220.9" cy="972.6" r="3"/><circle cx="221.5" cy="920.4" r="3"/><circle cx="222.5" cy="972.6" r="3"/><circle cx="223.8" cy="921.6" r="3"/><circle cx="225.4" cy="973.0" r="3"/><circle cx="228.2" cy="924.2" r="3"/><circle cx="226.9" cy="974.4" r="3"/><circle cx="229.4" cy="922.0" r="3"/><circle cx="229.9" cy="972.2" r="3"/><circle cx="230.4" cy="922.4" r="3"/><circle cx="230.6" cy="973.0" r="3"/><circle cx="232.0" cy="916.5" r="3"/><circle cx="231.4" cy="979.3" r="3"/><circle cx="234.4" cy="922.1" r="3"/><circle cx="234.3" cy="973.3" r="3"/><circle cx="237.1" cy="918.5" r="3"/><circle cx="236.9" cy="979.8" r="3"/><circle cx="238.0" cy="922.7" r="3"/><circle cx="237.9" cy="973.7" r="3"/><circle cx="240.0" cy="920.9" r="3"/><circle cx="240.2" cy="982.6" r="3"/><circle cx="242.7" cy="921.6" r="3"/><circle cx="243.3" cy="1004.9" r="3"/><circle cx="245.6" cy="910.5" r="3"/><circle cx="245.2" cy="977.0" r="3"/><circle cx="245.7" cy="923.8" r="3"/><circle cx="246.6" cy="973.2" r="3"/><circle cx="249.5" cy="912.3" r="3"/><circle cx="247.7" cy="975.9" r="3"/><circle cx="251.6" cy="919.5" r="3"/><circle cx="250.1" cy="972.8" r="3"/><circle cx="253.6" cy="921.2" r="3"/><circle cx="252.9" cy="974.2" r="3"/><circle cx="254.6" cy="923.4" r="3"/><circle cx="254.0" cy="973.4" r="3"/><circle cx="254.8" cy="923.6" r="3"/><circle cx="256.3" cy="977.3" r="3"/><circle cx="258.9" cy="924.4" r="3"/><circle cx="257.8" cy="972.5" r="3"/><circle cx="260.0" cy="911.6" r="3"/><circle cx="259.9" cy="982.2" r="3"/><circle cx="262.1" cy="918.5" r="3"/><circle cx="262.3" cy="975.7" r="3"/><circle cx="263.9" cy="921.9" r="3"/><circle cx="263.5" cy="976.2" r="3"/><circle cx="266.2" cy="922.6" r="3"/><circle cx="266.6" cy="994.0" r="3"/><circle cx="268.2" cy="924.2" r="3"/><circle cx="267.2" cy="975.7" r="3"/><circle cx="270.3" cy="921.6" r="3"/><circle cx="269.5" cy="977.2" r="3"/><circle cx="272.0" cy="915.7" r="3"/><circle cx="272.8" cy="972.4" r="3"/><circle cx="274.4" cy="924.2" r="3"/><circle cx="275.3" cy="972.5" r="3"/><circle cx="276.9" cy="922.9" r="3"/><circle cx="278.1" cy="973.7" r="3"/><circle cx="278.9" cy="924.1" r="3"/><circle cx="278.5" cy="977.5" r="3"/><circle cx="280.4" cy="918.6" r="3"/><circle cx="280.2" cy="988.5" r="3"/><circle cx="282.4" cy="915.5" r="3"/><circle cx="281.8" cy="972.6" r="3"/><circle cx="284.2" cy="921.6" r="3"/><circle cx="282.9" cy="973.5" r="3"/><circle cx="284.8" cy="920.7" r="3"/><circle cx="284.8" cy="976.8" r="3"/><circle cx="286.2" cy="923.0" r="3"/><circle cx="286.6" cy="972.6" r="3"/><circle cx="289.2" cy="914.5" r="3"/><circle cx="289.0" cy="978.0" r="3"/><circle cx="290.6" cy="914.8" r="3"/><circle cx="290.9" cy="973.8" r="3"/><circle cx="293.1" cy="922.8" r="3"/><circle cx="293.6" cy="977.9" r="3"/><circle cx="295.8" cy="923.9" r="3"/><circle cx="295.1" cy="973.4" r="3"/><circle cx="297.5" cy="921.6" r="3"/><circle cx="297.2" cy="978.1" r="3"/><circle cx="300.2" cy="924.3" r="3"/><circle cx="300.0" cy="980.5" r="3"/><circle cx="300.5" cy="919.7" r="3"/><circle cx="301.1" cy="973.1" r="3"/><circle cx="304.5" cy="922.8" r="3"/><circle cx="303.6" cy="976.2" r="3"/><circle cx="305.8" cy="920.2" r="3"/><circle cx="306.7" cy="978.5" r="3"/><circle cx="309.5" cy="918.1" r="3"/><circle cx="309.0" cy="975.9" r="3"/><circle cx="310.5" cy="922.6" r="3"/><circle cx="311.0" cy="977.1" r="3"/><circle cx="312.1" cy="923.8" r="3"/><circle cx="312.2" cy="984.8" r="3"/><circle cx="313.1" cy="920.8" r="3"/><circle cx="313.9" cy="972.4" r="3"/><circle cx="316.0" cy="924.5" r="3"/><circle cx="317.0" cy="973.1" r="3"/><circle cx="318.3" cy="923.7" r="3"/><circle cx="318.4" cy="972.9" r="3"/><circle cx="320.4" cy="918.5" r="3"/><circle cx="320.6" cy="980.1" r="3"/><circle cx="322.4" cy="913.3" r="3"/><circle cx="323.6" cy="972.4" r="3"/><circle cx="324.3" cy="921.9" r="3"/><circle cx="324.2" cy="988.9" r="3"/><circle cx="326.3" cy="922.3" r="3"/><circle cx="325.1" cy="976.7" r="3"/><circle cx="327.8" cy="923.2" r="3"/><circle cx="328.1" cy="974.8" r="3"/><circle cx="329.1" cy="921.8" r="3"/><circle cx="329.3" cy="972.2" r="3"/><circle cx="331.7" cy="924.3" r="3"/><circle cx="331.2" cy="972.6" r="3"/><circle cx="333.8" cy="921.4" r="3"/><circle cx="335.0" cy="977.8" r="3"/><circle cx="335.4" cy="918.3" r="3"/><circle cx="336.0" cy="974.9" r="3"/><circle cx="336.6" cy="923.3" r="3"/><circle cx="336.7" cy="974.5" r="3"/><circle cx="339.3" cy="924.2" r="3"/><circle cx="339.6" cy="984.5" r="3"/><circle cx="339.8" cy="922.9" r="3"/><circle cx="339.4" cy="975.2" r="3"/><circle cx="343.6" cy="918.8" r="3"/><circle cx="343.4" cy="973.4" r="3"/><circle cx="345.3" cy="923.1" r="3"/><circle cx="345.4" cy="973.3" r="3"/><circle cx="347.0" cy="914.2" r="3"/><circle cx="345.8" cy="973.7" r="3"/><circle cx="348.3" cy="924.2" r="3"/><circle cx="348.6" cy="972.9" r="3"/><circle cx="349.4" cy="924.3" r="3"/><circle cx="349.2" cy="972.7" r="3"/><circle cx="353.2" cy="922.6" r="3"/><circle cx="352.7" cy="977.4" r="3"/><circle cx="354.4" cy="922.7" r="3"/><circle cx="355.1" cy="976.5" r="3"/><circle cx="356.6" cy="921.2" r="3"/><circle cx="356.1" cy="973.7" r="3"/><circle cx="359.3" cy="922.0" r="3"/><circle cx="359.2" cy="975.6" r="3"/><circle cx="361.5" cy="921.7" r="3"/><circle cx="362.4" cy="972.8" r="3"/><circle cx="362.9" cy="920.1" r="3"/><circle cx="362.9" cy="982.6" r="3"/><circle cx="365.0" cy="923.6" r="3"/><circle cx="364.4" cy="973.6" r="3"/><circle cx="365.8" cy="924.1" r="3"/><circle cx="366.7" cy="980.6" r="3"/><circle cx="369.7" cy="923.5" r="3"/><circle cx="367.9" cy="978.3" r="3"/><circle cx="370.8" cy="923.4" r="3"/><circle cx="370.7" cy="975.3" r="3"/><circle cx="372.8" cy="924.3" r="3"/><circle cx="373.8" cy="987.8" r="3"/><circle cx="374.8" cy="920.6" r="3"/><circle cx="374.1" cy="975.4" r="3"/><circle cx="376.2" cy="922.3" r="3"/><circle cx="376.5" cy="975.2" r="3"/><circle cx="378.3" cy="921.6" r="3"/><circle cx="377.3" cy="972.3" r="3"/><circle cx="380.7" cy="921.3" r="3"/><circle cx="381.4" cy="975.7" r="3"/><circle cx="384.1" cy="922.2" r="3"/><circle cx="383.3" cy="979.2" r="3"/><circle cx="385.6" cy="916.1" r="3"/><circle cx="385.2" cy="974.2" r="3"/><circle cx="387.1" cy="919.9" r="3"/><circle cx="386.3" cy="975.5" r="3"/><circle cx="388.7" cy="924.3" r="3"/><circle cx="387.9" cy="974.7" r="3"/><circle cx="390.8" cy="921.9" r="3"/><circle cx="390.4" cy="974.0" r="3"/><circle cx="394.8" cy="912.4" r="3"/><circle cx="393.5" cy="974.2" r="3"/><circle cx="395.7" cy="921.6" r="3"/><circle cx="396.6" cy="977.9" r="3"/><circle cx="399.0" cy="924.6" r="3"/><circle cx="400.2" cy="973.6" r="3"/><circle cx="402.2" cy="922.8" r="3"/><circle cx="402.9" cy="972.4" r="3"/><circle cx="404.6" cy="922.1" r="3"/><circle cx="403.3" cy="974.5" r="3"/><circle cx="407.2" cy="916.4" r="3"/><circle cx="405.9" cy="973.8" r="3"/><circle cx="409.6" cy="905.2" r="3"/><circle cx="408.4" cy="973.0" r="3"/><circle cx="411.3" cy="919.9" r="3"/><circle cx="409.8" cy="979.5" r="3"/><circle cx="412.1" cy="914.6" r="3"/><circle cx="413.3" cy="973.1" r="3"/><circle cx="414.6" cy="923.9" r="3"/><circle cx="414.6" cy="977.8" r="3"/><circle cx="416.7" cy="921.4" r="3"/><circle cx="416.6" cy="981.6" r="3"/><circle cx="419.2" cy="924.3" r="3"/><circle cx="418.4" cy="974.9" r="3"/><circle cx="422.1" cy="923.4" r="3"/><circle cx="422.0" cy="972.5" r="3"/><circle cx="422.4" cy="923.4" r="3"/><circle cx="422.1" cy="980.4" r="3"/><circle cx="425.8" cy="919.6" r="3"/><circle cx="425.1" cy="974.7" r="3"/><circle cx="427.8" cy="923.0" r="3"/><circle cx="427.9" cy="974.8" r="3"/><circle cx="429.0" cy="922.0" r="3"/><circle cx="429.8" cy="977.6" r="3"/><circle cx="431.7" cy="922.5" r="3"/><circle cx="431.1" cy="977.8" r="3"/><circle cx="431.6" cy="921.5" r="3"/><circle cx="432.7" cy="975.5" r="3"/><circle cx="434.3" cy="923.9" r="3"/><circle cx="435.2" cy="974.7" r="3"/><circle cx="437.6" cy="918.8" r="3"/><circle cx="437.4" cy="975.2" r="3"/><circle cx="437.4" cy="924.0" r="3"/><circle cx="438.3" cy="973.6" r="3"/><circle cx="440.4" cy="921.4" r="3"/><circle cx="439.1" cy="972.9" r="3"/><circle cx="441.3" cy="918.2" r="3"/><circle cx="441.6" cy="974.1" r="3"/><circle cx="445.6" cy="924.4" r="3"/><circle cx="445.0" cy="987.6" r="3"/><circle cx="448.4" cy="924.5" r="3"/><circle cx="447.2" cy="972.7" r="3"/><circle cx="450.5" cy="924.3" r="3"/><circle cx="448.9" cy="977.4" r="3"/><circle cx="450.9" cy="921.7" r="3"/><circle cx="450.6" cy="981.9" r="3"/><circle cx="453.7" cy="921.2" r="3"/><circle cx="453.6" cy="976.0" r="3"/><circle cx="457.1" cy="917.4" r="3"/><circle cx="457.0" cy="974.4" r="3"/><circle cx="457.8" cy="919.1" r="3"/><circle cx="457.4" cy="972.9" r="3"/><circle cx="459.1" cy="923.7" r="3"/><circle cx="459.8" cy="974.3" r="3"/><circle cx="461.4" cy="923.8" r="3"/><circle cx="461.8" cy="976.4" r="3"/><circle cx="463.0" cy="923.9" r="3"/><circle cx="462.8" cy="981.5" r="3"/><circle cx="464.7" cy="924.0" r="3"/><circle cx="465.8" cy="977.4" r="3"/><circle cx="465.2" cy="923.2" r="3"/><circle cx="466.6" cy="979.9" r="3"/><circle cx="467.5" cy="924.4" r="3"/><circle cx="468.2" cy="972.4" r="3"/><circle cx="469.2" cy="923.3" r="3"/><circle cx="468.6" cy="972.7" r="3"/><circle cx="471.0" cy="920.7" r="3"/><circle cx="471.4" cy="973.4" r="3"/><circle cx="472.9" cy="917.4" r="3"/><circle cx="472.4" cy="973.7" r="3"/><circle cx="475.0" cy="921.0" r="3"/><circle cx="474.7" cy="985.6" r="3"/><circle cx="477.6" cy="923.7" r="3"/><circle cx="476.7" cy="983.4" r="3"/><circle cx="479.3" cy="924.3" r="3"/><circle cx="479.2" cy="972.4" r="3"/><circle cx="481.3" cy="923.4" r="3"/><circle cx="481.8" cy="974.5" r="3"/><circle cx="482.8" cy="924.2" r="3"/><circle cx="483.4" cy="972.8" r="3"/><circle cx="484.9" cy="920.3" r="3"/><circle cx="484.9" cy="973.8" r="3"/><circle cx="486.1" cy="922.1" r="3"/><circle cx="485.2" cy="973.6" r="3"/><circle cx="487.4" cy="916.6" r="3"/><circle cx="487.8" cy="976.2" r="3"/><circle cx="490.3" cy="913.5" r="3"/><circle cx="490.4" cy="982.5" r="3"/><circle cx="491.9" cy="922.7" r="3"/><circle cx="492.1" cy="978.6" r="3"/><circle cx="495.2" cy="924.5" r="3"/><circle cx="496.1" cy="973.5" r="3"/><circle cx="496.8" cy="923.8" r="3"/><circle cx="496.3" cy="980.4" r="3"/><circle cx="498.0" cy="922.2" r="3"/><circle cx="498.6" cy="975.7" r="3"/><circle cx="501.7" cy="923.1" r="3"/><circle cx="501.3" cy="973.6" r="3"/><circle cx="502.6" cy="912.6" r="3"/><circle cx="503.4" cy="975.7" r="3"/><circle cx="505.1" cy="923.4" r="3"/><circle cx="504.6" cy="973.2" r="3"/><circle cx="505.5" cy="922.0" r="3"/><circle cx="506.8" cy="972.5" r="3"/><circle cx="507.5" cy="922.4" r="3"/><circle cx="508.3" cy="972.8" r="3"/><circle cx="509.3" cy="923.5" r="3"/><circle cx="508.2" cy="974.0" r="3"/><circle cx="511.6" cy="923.2" r="3"/><circle cx="511.3" cy="978.9" r="3"/><circle cx="513.6" cy="920.2" r="3"/><circle cx="512.7" cy="978.0" r="3"/><circle cx="514.3" cy="923.7" r="3"/><circle cx="516.2" cy="975.4" r="3"/><circle cx="516.8" cy="920.4" r="3"/><circle cx="517.5" cy="974.0" r="3"/><circle cx="516.7" cy="920.1" r="3"/><circle cx="518.6" cy="973.4" r="3"/><circle cx="519.0" cy="923.2" r="3"/><circle cx="518.5" cy="974.6" r="3"/><circle cx="521.3" cy="918.0" r="3"/><circle cx="522.5" cy="975.7" r="3"/><circle cx="523.9" cy="920.3" r="3"/><circle cx="522.5" cy="972.8" r="3"/><circle cx="525.4" cy="923.6" r="3"/><circle cx="526.3" cy="973.6" r="3"/><circle cx="526.9" cy="921.1" r="3"/><circle cx="527.0" cy="974.6" r="3"/><circle cx="528.2" cy="924.4" r="3"/><circle cx="528.5" cy="972.5" r="3"/><circle cx="531.5" cy="923.8" r="3"/><circle cx="531.3" cy="974.1" r="3"/><circle cx="532.9" cy="921.7" r="3"/><circle cx="533.4" cy="973.4" r="3"/><circle cx="536.1" cy="922.5" r="3"/><circle cx="535.0" cy="972.9" r="3"/><circle cx="537.4" cy="924.3" r="3"/><circle cx="535.9" cy="973.5" r="3"/><circle cx="538.3" cy="913.1" r="3"/><circle cx="538.8" cy="978.2" r="3"/><circle cx="540.6" cy="918.8" r="3"/><circle cx="541.0" cy="987.6" r="3"/><circle cx="542.7" cy="920.2" r="3"/><circle cx="541.4" cy="972.3" r="3"/><circle cx="544.3" cy="922.9" r="3"/><circle cx="543.4" cy="973.8" r="3"/><circle cx="544.4" cy="916.1" r="3"/><circle cx="544.7" cy="973.7" r="3"/><circle cx="547.1" cy="921.8" r="3"/><circle cx="547.4" cy="972.6" r="3"/><circle cx="549.4" cy="924.6" r="3"/><circle cx="550.5" cy="973.6" r="3"/><circle cx="551.5" cy="917.0" r="3"/><circle cx="550.9" cy="972.6" r="3"/><circle cx="554.3" cy="923.7" r="3"/><circle cx="554.3" cy="972.9" r="3"/><circle cx="556.5" cy="923.2" r="3"/><circle cx="557.1" cy="988.6" r="3"/><circle cx="558.8" cy="920.9" r="3"/><circle cx="558.8" cy="980.1" r="3"/><circle cx="561.3" cy="921.6" r="3"/><circle cx="560.9" cy="976.4" r="3"/><circle cx="562.6" cy="922.9" r="3"/><circle cx="561.5" cy="975.3" r="3"/><circle cx="564.9" cy="922.5" r="3"/><circle cx="564.6" cy="981.9" r="3"/><circle cx="568.1" cy="919.8" r="3"/><circle cx="568.4" cy="988.6" r="3"/><circle cx="568.4" cy="908.0" r="3"/><circle cx="569.8" cy="978.8" r="3"/><circle cx="572.6" cy="918.8" r="3"/><circle cx="572.0" cy="972.4" r="3"/><circle cx="573.1" cy="918.7" r="3"/><circle cx="572.6" cy="979.4" r="3"/><circle cx="575.9" cy="924.3" r="3"/><circle cx="576.0" cy="974.6" r="3"/><circle cx="578.9" cy="919.3" r="3"/><circle cx="577.8" cy="977.9" r="3"/><circle cx="580.0" cy="924.5" r="3"/><circle cx="578.6" cy="978.7" r="3"/><circle cx="581.8" cy="917.8" r="3"/><circle cx="580.5" cy="972.5" r="3"/><circle cx="582.7" cy="917.1" r="3"/><circle cx="582.3" cy="976.2" r="3"/><circle cx="584.5" cy="923.2" r="3"/><circle cx="584.3" cy="975.5" r="3"/><circle cx="585.5" cy="920.3" r="3"/><circle cx="586.5" cy="972.6" r="3"/><circle cx="588.3" cy="923.8" r="3"/><circle cx="587.6" cy="977.0" r="3"/><circle cx="589.6" cy="924.0" r="3"/><circle cx="589.7" cy="978.4" r="3"/><circle cx="592.2" cy="914.4" r="3"/><circle cx="591.4" cy="973.2" r="3"/><circle cx="594.9" cy="923.4" r="3"/><circle cx="594.3" cy="974.4" r="3"/><circle cx="596.1" cy="921.3" r="3"/><circle cx="596.9" cy="974.2" r="3"/><circle cx="600.3" cy="923.4" r="3"/><circle cx="599.2" cy="973.2" r="3"/><circle cx="602.4" cy="923.6" r="3"/><circle cx="602.9" cy="978.4" r="3"/><circle cx="604.0" cy="924.2" r="3"/><circle cx="605.3" cy="973.8" r="3"/><circle cx="608.0" cy="923.1" r="3"/><circle cx="607.1" cy="972.3" r="3"/><circle cx="609.2" cy="922.3" r="3"/><circle cx="609.8" cy="975.5" r="3"/><circle cx="612.2" cy="922.8" r="3"/><circle cx="611.0" cy="976.5" r="3"/><circle cx="613.2" cy="922.8" r="3"/><circle cx="613.5" cy="988.7" r="3"/><circle cx="614.2" cy="922.8" r="3"/><circle cx="615.3" cy="972.9" r="3"/><circle cx="618.0" cy="923.5" r="3"/><circle cx="617.5" cy="977.6" r="3"/><circle cx="619.4" cy="917.5" r="3"/><circle cx="618.7" cy="972.3" r="3"/><circle cx="620.3" cy="924.2" r="3"/><circle cx="620.8" cy="974.7" r="3"/><circle cx="621.5" cy="924.3" r="3"/><circle cx="621.7" cy="977.6" r="3"/><circle cx="623.1" cy="923.7" r="3"/><circle cx="622.2" cy="974.4" r="3"/><circle cx="625.8" cy="924.0" r="3"/><circle cx="626.4" cy="974.1" r="3"/><circle cx="628.0" cy="922.7" r="3"/><circle cx="629.1" cy="978.3" r="3"/><circle cx="629.2" cy="921.9" r="3"/><circle cx="630.2" cy="973.5" r="3"/><circle cx="631.8" cy="924.4" r="3"/><circle cx="633.5" cy="973.3" r="3"/><circle cx="635.1" cy="922.2" r="3"/><circle cx="634.3" cy="982.7" r="3"/><circle cx="637.6" cy="922.8" r="3"/><circle cx="637.0" cy="973.3" r="3"/><circle cx="639.0" cy="923.0" r="3"/><circle cx="638.2" cy="972.4" r="3"/><circle cx="640.6" cy="921.7" r="3"/><circle cx="640.8" cy="972.6" r="3"/><circle cx="643.1" cy="923.7" r="3"/><circle cx="644.0" cy="972.2" r="3"/><circle cx="643.8" cy="921.4" r="3"/><circle cx="643.7" cy="975.5" r="3"/><circle cx="646.3" cy="921.4" r="3"/><circle cx="645.4" cy="974.8" r="3"/><circle cx="648.1" cy="923.6" r="3"/><circle cx="647.3" cy="974.2" r="3"/><circle cx="650.1" cy="920.5" r="3"/><circle cx="648.7" cy="978.6" r="3"/><circle cx="650.8" cy="919.0" r="3"/><circle cx="652.0" cy="977.4" r="3"/><circle cx="652.9" cy="915.2" r="3"/><circle cx="654.0" cy="982.0" r="3"/><circle cx="655.2" cy="919.8" r="3"/><circle cx="654.0" cy="987.0" r="3"/><circle cx="657.2" cy="922.5" r="3"/><circle cx="656.6" cy="974.3" r="3"/><circle cx="658.3" cy="919.8" r="3"/><circle cx="659.1" cy="978.7" r="3"/><circle cx="661.2" cy="924.1" r="3"/><circle cx="659.7" cy="975.2" r="3"/><circle cx="661.3" cy="921.8" r="3"/><circle cx="661.2" cy="979.6" r="3"/><circle cx="664.8" cy="922.9" r="3"/><circle cx="663.7" cy="974.6" r="3"/><circle cx="665.9" cy="924.2" r="3"/><circle cx="666.2" cy="975.4" r="3"/><circle cx="667.9" cy="923.1" r="3"/><circle cx="668.5" cy="974.0" r="3"/><circle cx="670.5" cy="921.4" r="3"/><circle cx="669.0" cy="973.6" r="3"/><circle cx="670.6" cy="919.9" r="3"/><circle cx="670.8" cy="972.4" r="3"/><circle cx="673.6" cy="922.6" r="3"/><circle cx="673.4" cy="985.6" r="3"/><circle cx="674.7" cy="923.7" r="3"/><circle cx="674.6" cy="973.5" r="3"/><circle cx="677.6" cy="921.6" r="3"/><circle cx="678.4" cy="972.8" r="3"/><circle cx="679.9" cy="924.2" r="3"/><circle cx="680.7" cy="973.0" r="3"/><circle cx="682.5" cy="919.4" r="3"/><circle cx="681.5" cy="981.5" r="3"/><circle cx="685.4" cy="920.0" r="3"/><circle cx="684.1" cy="976.9" r="3"/><circle cx="685.3" cy="921.8" r="3"/><circle cx="685.7" cy="973.2" r="3"/><circle cx="687.2" cy="923.4" r="3"/><circle cx="687.9" cy="979.7" r="3"/><circle cx="690.4" cy="921.2" r="3"/><circle cx="690.8" cy="975.0" r="3"/><circle cx="693.4" cy="923.5" r="3"/><circle cx="692.0" cy="973.8" r="3"/><circle cx="695.3" cy="922.9" r="3"/><circle cx="694.1" cy="974.7" r="3"/><circle cx="696.7" cy="913.8" r="3"/><circle cx="696.7" cy="976.1" r="3"/><circle cx="698.0" cy="921.6" r="3"/><circle cx="696.2" cy="973.5" r="3"/><circle cx="699.5" cy="924.3" r="3"/><circle cx="700.1" cy="986.8" r="3"/><circle cx="702.0" cy="921.9" r="3"/><circle cx="701.7" cy="972.9" r="3"/><circle cx="703.8" cy="923.8" r="3"/><circle cx="703.9" cy="974.6" r="3"/><circle cx="705.3" cy="911.7" r="3"/><circle cx="706.5" cy="973.5" r="3"/><circle cx="709.8" cy="911.2" r="3"/><circle cx="708.0" cy="979.2" r="3"/><circle cx="711.2" cy="921.4" r="3"/><circle cx="710.1" cy="975.6" r="3"/><circle cx="712.2" cy="913.1" r="3"/><circle cx="712.0" cy="979.5" r="3"/><circle cx="714.1" cy="918.2" r="3"/><circle cx="714.7" cy="975.3" r="3"/><circle cx="716.0" cy="924.3" r="3"/><circle cx="714.7" cy="978.7" r="3"/><circle cx="716.3" cy="924.5" r="3"/><circle cx="716.4" cy="975.4" r="3"/><circle cx="719.8" cy="922.4" r="3"/><circle cx="718.6" cy="972.9" r="3"/><circle cx="720.5" cy="919.1" r="3"/><circle cx="721.1" cy="976.0" r="3"/><circle cx="722.0" cy="917.1" r="3"/><circle cx="723.0" cy="973.5" r="3"/><circle cx="724.1" cy="919.0" r="3"/><circle cx="724.3" cy="977.4" r="3"/><circle cx="726.4" cy="908.1" r="3"/><circle cx="726.5" cy="980.9" r="3"/><circle cx="727.7" cy="919.0" r="3"/><circle cx="727.6" cy="977.8" r="3"/><circle cx="730.8" cy="919.7" r="3"/><circle cx="729.9" cy="972.3" r="3"/><circle cx="730.7" cy="915.7" r="3"/><circle cx="732.2" cy="979.8" r="3"/><circle cx="733.4" cy="915.0" r="3"/><circle cx="732.3" cy="982.7" r="3"/><circle cx="736.3" cy="916.9" r="3"/><circle cx="734.6" cy="974.4" r="3"/><circle cx="736.3" cy="914.5" r="3"/><circle cx="736.5" cy="973.7" r="3"/><circle cx="738.3" cy="924.1" r="3"/><circle cx="738.3" cy="975.2" r="3"/><circle cx="740.3" cy="924.3" r="3"/><circle cx="742.0" cy="973.5" r="3"/><circle cx="743.3" cy="924.0" r="3"/><circle cx="744.1" cy="973.5" r="3"/><circle cx="745.0" cy="921.3" r="3"/><circle cx="746.0" cy="973.0" r="3"/><circle cx="745.2" cy="919.4" r="3"/><circle cx="746.6" cy="972.8" r="3"/><circle cx="748.2" cy="924.5" r="3"/><circle cx="747.5" cy="974.7" r="3"/><circle cx="748.0" cy="924.5" r="3"/><circle cx="748.7" cy="973.3" r="3"/><circle cx="750.6" cy="921.1" r="3"/><circle cx="750.7" cy="980.0" r="3"/><circle cx="182" cy="901.9" r="3"/><circle cx="183.4" cy="907" r="3"/><circle cx="189" cy="911.4" r="3"/><circle cx="160.2" cy="908.9" r="3"/><circle cx="256.8" cy="909.6" r="3"/><circle cx="263.3" cy="907.6" r="3"/><circle cx="538.4" cy="905.1" r="3"/><circle cx="183.4" cy="983.1" r="3"/><circle cx="256.8" cy="983.1" r="3"/><circle cx="263.3" cy="984.4" r="3"/><circle cx="278.7" cy="984.4" r="3"/><circle cx="724.2" cy="991.1" r="3"/></g>
<rect x="90.9" y="939.2" width="658.5" height="18.4" fill="#000"/>
<g fill="#000"><rect x="91.9" y="937.2" width="5" height="3.0"/><rect x="91.9" y="956.6" width="5" height="1.7"/><rect x="96.2" y="936.4" width="5" height="3.8"/><rect x="96.2" y="956.6" width="5" height="4.6"/><rect x="100.7" y="938.6" width="5" height="1.6"/><rect x="100.7" y="956.6" width="5" height="2.5"/><rect x="104.2" y="936.2" width="5" height="4.0"/><rect x="104.2" y="956.6" width="5" height="5.4"/><rect x="107.9" y="937.4" width="5" height="2.8"/><rect x="107.9" y="956.6" width="5" height="3.4"/><rect x="111.2" y="938.8" width="5" height="1.4"/><rect x="111.2" y="956.6" width="5" height="1.4"/><rect x="114.6" y="937.4" width="5" height="2.8"/><rect x="114.6" y="956.6" width="5" height="2.9"/><rect x="117.8" y="935.6" width="5" height="4.6"/><rect x="117.8" y="956.6" width="5" height="5.4"/><rect x="120.0" y="938.4" width="5" height="1.8"/><rect x="120.0" y="956.6" width="5" height="2.7"/><rect x="122.7" y="937.0" width="5" height="3.2"/><rect x="122.7" y="956.6" width="5" height="2.7"/><rect x="127.0" y="936.6" width="5" height="3.6"/><rect x="127.0" y="956.6" width="5" height="1.4"/><rect x="130.3" y="938.2" width="5" height="2.0"/><rect x="130.3" y="956.6" width="5" height="2.4"/><rect x="134.3" y="934.5" width="5" height="5.7"/><rect x="134.3" y="956.6" width="5" height="1.9"/><rect x="138.1" y="937.6" width="5" height="2.6"/><rect x="138.1" y="956.6" width="5" height="4.6"/><rect x="140.8" y="936.2" width="5" height="4.0"/><rect x="140.8" y="956.6" width="5" height="5.8"/><rect x="144.8" y="935.5" width="5" height="4.7"/><rect x="144.8" y="956.6" width="5" height="4.1"/><rect x="147.0" y="938.4" width="5" height="1.8"/><rect x="147.0" y="956.6" width="5" height="2.1"/><rect x="149.7" y="937.7" width="5" height="2.5"/><rect x="149.7" y="956.6" width="5" height="4.1"/><rect x="153.3" y="933.4" width="5" height="6.8"/><rect x="153.3" y="956.6" width="5" height="3.6"/><rect x="157.3" y="937.1" width="5" height="3.1"/><rect x="157.3" y="956.6" width="5" height="3.2"/><rect x="160.5" y="935.7" width="5" height="4.5"/><rect x="160.5" y="956.6" width="5" height="2.5"/><rect x="163.1" y="936.9" width="5" height="3.3"/><rect x="163.1" y="956.6" width="5" height="4.1"/><rect x="165.8" y="938.7" width="5" height="1.5"/><rect x="165.8" y="956.6" width="5" height="2.6"/><rect x="170.2" y="936.7" width="5" height="3.5"/><rect x="170.2" y="956.6" width="5" height="5.3"/><rect x="174.6" y="935.1" width="5" height="5.1"/><rect x="174.6" y="956.6" width="5" height="4.8"/><rect x="177.3" y="933.4" width="5" height="6.8"/><rect x="177.3" y="956.6" width="5" height="1.6"/><rect x="180.5" y="938.8" width="5" height="1.4"/><rect x="180.5" y="956.6" width="5" height="2.8"/><rect x="183.1" y="936.3" width="5" height="3.9"/><rect x="183.1" y="956.6" width="5" height="2.0"/><rect x="187.4" y="937.6" width="5" height="2.6"/><rect x="187.4" y="956.6" width="5" height="2.9"/><rect x="190.6" y="937.9" width="5" height="2.3"/><rect x="190.6" y="956.6" width="5" height="1.6"/><rect x="194.5" y="936.2" width="5" height="4.0"/><rect x="194.5" y="956.6" width="5" height="2.3"/><rect x="197.2" y="932.2" width="5" height="8.0"/><rect x="197.2" y="956.6" width="5" height="3.1"/><rect x="201.1" y="937.8" width="5" height="2.4"/><rect x="201.1" y="956.6" width="5" height="1.7"/><rect x="204.9" y="938.6" width="5" height="1.6"/><rect x="204.9" y="956.6" width="5" height="3.0"/><rect x="208.6" y="936.8" width="5" height="3.4"/><rect x="208.6" y="956.6" width="5" height="1.9"/><rect x="213.0" y="936.3" width="5" height="3.9"/><rect x="213.0" y="956.6" width="5" height="1.7"/><rect x="216.1" y="937.4" width="5" height="2.8"/><rect x="216.1" y="956.6" width="5" height="2.8"/><rect x="219.1" y="937.1" width="5" height="3.1"/><rect x="219.1" y="956.6" width="5" height="6.7"/><rect x="221.4" y="935.1" width="5" height="5.1"/><rect x="221.4" y="956.6" width="5" height="2.1"/><rect x="224.6" y="935.0" width="5" height="5.2"/><rect x="224.6" y="956.6" width="5" height="4.4"/><rect x="228.1" y="936.6" width="5" height="3.6"/><rect x="228.1" y="956.6" width="5" height="6.6"/><rect x="230.6" y="937.3" width="5" height="2.9"/><rect x="230.6" y="956.6" width="5" height="3.1"/><rect x="234.9" y="938.7" width="5" height="1.5"/><rect x="234.9" y="956.6" width="5" height="4.8"/><rect x="237.8" y="936.9" width="5" height="3.3"/><rect x="237.8" y="956.6" width="5" height="2.1"/><rect x="240.8" y="937.8" width="5" height="2.4"/><rect x="240.8" y="956.6" width="5" height="4.5"/><rect x="245.0" y="937.0" width="5" height="3.2"/><rect x="245.0" y="956.6" width="5" height="1.8"/><rect x="249.0" y="936.5" width="5" height="3.7"/><rect x="249.0" y="956.6" width="5" height="3.0"/><rect x="252.8" y="936.1" width="5" height="4.1"/><rect x="252.8" y="956.6" width="5" height="2.2"/><rect x="256.4" y="938.4" width="5" height="1.8"/><rect x="256.4" y="956.6" width="5" height="4.7"/><rect x="259.3" y="938.8" width="5" height="1.4"/><rect x="259.3" y="956.6" width="5" height="1.7"/><rect x="261.9" y="937.8" width="5" height="2.4"/><rect x="261.9" y="956.6" width="5" height="2.2"/><rect x="264.4" y="938.3" width="5" height="1.9"/><rect x="264.4" y="956.6" width="5" height="1.7"/><rect x="268.5" y="936.8" width="5" height="3.4"/><rect x="268.5" y="956.6" width="5" height="3.0"/><rect x="272.4" y="937.6" width="5" height="2.6"/><rect x="272.4" y="956.6" width="5" height="2.0"/><rect x="275.7" y="937.8" width="5" height="2.4"/><rect x="275.7" y="956.6" width="5" height="1.4"/><rect x="279.5" y="937.4" width="5" height="2.8"/><rect x="279.5" y="956.6" width="5" height="1.8"/><rect x="282.8" y="937.5" width="5" height="2.7"/><rect x="282.8" y="956.6" width="5" height="3.7"/><rect x="285.5" y="938.2" width="5" height="2.0"/><rect x="285.5" y="956.6" width="5" height="3.3"/><rect x="288.7" y="932.9" width="5" height="7.3"/><rect x="288.7" y="956.6" width="5" height="2.4"/><rect x="291.5" y="938.9" width="5" height="1.3"/><rect x="291.5" y="956.6" width="5" height="2.1"/><rect x="295.3" y="938.0" width="5" height="2.2"/><rect x="295.3" y="956.6" width="5" height="3.0"/><rect x="298.6" y="937.0" width="5" height="3.2"/><rect x="298.6" y="956.6" width="5" height="1.6"/><rect x="301.4" y="935.7" width="5" height="4.5"/><rect x="301.4" y="956.6" width="5" height="4.6"/><rect x="303.7" y="935.8" width="5" height="4.4"/><rect x="303.7" y="956.6" width="5" height="3.1"/><rect x="306.9" y="938.7" width="5" height="1.5"/><rect x="306.9" y="956.6" width="5" height="1.7"/><rect x="309.4" y="938.0" width="5" height="2.2"/><rect x="309.4" y="956.6" width="5" height="4.3"/><rect x="312.0" y="937.2" width="5" height="3.0"/><rect x="312.0" y="956.6" width="5" height="1.6"/><rect x="315.4" y="934.3" width="5" height="5.9"/><rect x="315.4" y="956.6" width="5" height="5.0"/><rect x="318.9" y="935.9" width="5" height="4.3"/><rect x="318.9" y="956.6" width="5" height="5.5"/><rect x="322.0" y="936.8" width="5" height="3.4"/><rect x="322.0" y="956.6" width="5" height="5.2"/><rect x="324.9" y="938.5" width="5" height="1.7"/><rect x="324.9" y="956.6" width="5" height="2.6"/><rect x="327.5" y="938.0" width="5" height="2.2"/><rect x="327.5" y="956.6" width="5" height="5.3"/><rect x="329.6" y="937.5" width="5" height="2.7"/><rect x="329.6" y="956.6" width="5" height="3.4"/><rect x="331.7" y="935.4" width="5" height="4.8"/><rect x="331.7" y="956.6" width="5" height="5.9"/><rect x="333.9" y="938.6" width="5" height="1.6"/><rect x="333.9" y="956.6" width="5" height="1.5"/><rect x="336.6" y="937.4" width="5" height="2.8"/><rect x="336.6" y="956.6" width="5" height="4.0"/><rect x="339.3" y="937.2" width="5" height="3.0"/><rect x="339.3" y="956.6" width="5" height="2.0"/><rect x="342.0" y="938.9" width="5" height="1.3"/><rect x="342.0" y="956.6" width="5" height="1.7"/><rect x="344.7" y="936.0" width="5" height="4.2"/><rect x="344.7" y="956.6" width="5" height="3.8"/><rect x="347.5" y="936.4" width="5" height="3.8"/><rect x="347.5" y="956.6" width="5" height="3.5"/><rect x="351.2" y="936.8" width="5" height="3.4"/><rect x="351.2" y="956.6" width="5" height="1.3"/><rect x="354.4" y="936.5" width="5" height="3.7"/><rect x="354.4" y="956.6" width="5" height="1.7"/><rect x="357.0" y="934.1" width="5" height="6.1"/><rect x="357.0" y="956.6" width="5" height="1.5"/><rect x="359.7" y="937.4" width="5" height="2.8"/><rect x="359.7" y="956.6" width="5" height="5.1"/><rect x="363.4" y="938.8" width="5" height="1.4"/><rect x="363.4" y="956.6" width="5" height="3.5"/><rect x="367.6" y="934.4" width="5" height="5.8"/><rect x="367.6" y="956.6" width="5" height="3.5"/><rect x="372.0" y="936.6" width="5" height="3.6"/><rect x="372.0" y="956.6" width="5" height="1.9"/><rect x="375.3" y="938.1" width="5" height="2.1"/><rect x="375.3" y="956.6" width="5" height="3.1"/><rect x="378.3" y="938.3" width="5" height="1.9"/><rect x="378.3" y="956.6" width="5" height="2.0"/><rect x="381.4" y="938.7" width="5" height="1.5"/><rect x="381.4" y="956.6" width="5" height="4.0"/><rect x="384.5" y="936.5" width="5" height="3.7"/><rect x="384.5" y="956.6" width="5" height="3.1"/><rect x="387.9" y="937.5" width="5" height="2.7"/><rect x="387.9" y="956.6" width="5" height="5.5"/><rect x="391.5" y="938.7" width="5" height="1.5"/><rect x="391.5" y="956.6" width="5" height="2.1"/><rect x="395.9" y="938.0" width="5" height="2.2"/><rect x="395.9" y="956.6" width="5" height="1.6"/><rect x="400.0" y="936.8" width="5" height="3.4"/><rect x="400.0" y="956.6" width="5" height="4.6"/><rect x="402.3" y="938.8" width="5" height="1.4"/><rect x="402.3" y="956.6" width="5" height="1.8"/><rect x="406.7" y="938.2" width="5" height="2.0"/><rect x="406.7" y="956.6" width="5" height="2.7"/><rect x="410.3" y="932.8" width="5" height="7.4"/><rect x="410.3" y="956.6" width="5" height="4.4"/><rect x="414.4" y="938.9" width="5" height="1.3"/><rect x="414.4" y="956.6" width="5" height="4.5"/><rect x="418.8" y="938.8" width="5" height="1.4"/><rect x="418.8" y="956.6" width="5" height="2.9"/><rect x="420.9" y="938.3" width="5" height="1.9"/><rect x="420.9" y="956.6" width="5" height="2.7"/><rect x="424.7" y="935.9" width="5" height="4.3"/><rect x="424.7" y="956.6" width="5" height="1.7"/><rect x="428.5" y="938.2" width="5" height="2.0"/><rect x="428.5" y="956.6" width="5" height="1.3"/><rect x="431.8" y="938.4" width="5" height="1.8"/><rect x="431.8" y="956.6" width="5" height="1.4"/><rect x="434.6" y="937.3" width="5" height="2.9"/><rect x="434.6" y="956.6" width="5" height="3.5"/><rect x="437.9" y="935.5" width="5" height="4.7"/><rect x="437.9" y="956.6" width="5" height="1.3"/><rect x="440.4" y="938.8" width="5" height="1.4"/><rect x="440.4" y="956.6" width="5" height="4.0"/><rect x="443.5" y="937.4" width="5" height="2.8"/><rect x="443.5" y="956.6" width="5" height="3.6"/><rect x="447.3" y="935.4" width="5" height="4.8"/><rect x="447.3" y="956.6" width="5" height="2.5"/><rect x="449.4" y="934.9" width="5" height="5.3"/><rect x="449.4" y="956.6" width="5" height="2.0"/><rect x="451.6" y="937.4" width="5" height="2.8"/><rect x="451.6" y="956.6" width="5" height="5.3"/><rect x="454.3" y="938.5" width="5" height="1.7"/><rect x="454.3" y="956.6" width="5" height="2.2"/><rect x="456.7" y="937.7" width="5" height="2.5"/><rect x="456.7" y="956.6" width="5" height="3.5"/><rect x="460.1" y="936.9" width="5" height="3.3"/><rect x="460.1" y="956.6" width="5" height="4.1"/><rect x="462.6" y="938.8" width="5" height="1.4"/><rect x="462.6" y="956.6" width="5" height="1.5"/><rect x="465.6" y="934.3" width="5" height="5.9"/><rect x="465.6" y="956.6" width="5" height="2.5"/><rect x="469.3" y="936.7" width="5" height="3.5"/><rect x="469.3" y="956.6" width="5" height="5.6"/><rect x="472.1" y="938.9" width="5" height="1.3"/><rect x="472.1" y="956.6" width="5" height="4.8"/><rect x="474.5" y="935.8" width="5" height="4.4"/><rect x="474.5" y="956.6" width="5" height="3.7"/><rect x="479.0" y="938.7" width="5" height="1.5"/><rect x="479.0" y="956.6" width="5" height="5.3"/><rect x="483.4" y="936.8" width="5" height="3.4"/><rect x="483.4" y="956.6" width="5" height="2.9"/><rect x="487.5" y="936.1" width="5" height="4.1"/><rect x="487.5" y="956.6" width="5" height="5.5"/><rect x="490.9" y="933.8" width="5" height="6.4"/><rect x="490.9" y="956.6" width="5" height="3.9"/><rect x="493.7" y="937.9" width="5" height="2.3"/><rect x="493.7" y="956.6" width="5" height="2.1"/><rect x="498.2" y="938.7" width="5" height="1.5"/><rect x="498.2" y="956.6" width="5" height="3.2"/><rect x="502.3" y="938.1" width="5" height="2.1"/><rect x="502.3" y="956.6" width="5" height="5.2"/><rect x="504.3" y="938.1" width="5" height="2.1"/><rect x="504.3" y="956.6" width="5" height="2.7"/><rect x="506.5" y="938.6" width="5" height="1.6"/><rect x="506.5" y="956.6" width="5" height="2.7"/><rect x="510.6" y="937.0" width="5" height="3.2"/><rect x="510.6" y="956.6" width="5" height="2.1"/><rect x="513.4" y="938.8" width="5" height="1.4"/><rect x="513.4" y="956.6" width="5" height="3.5"/><rect x="517.3" y="937.6" width="5" height="2.6"/><rect x="517.3" y="956.6" width="5" height="1.6"/><rect x="519.4" y="937.8" width="5" height="2.4"/><rect x="519.4" y="956.6" width="5" height="2.0"/><rect x="523.1" y="938.2" width="5" height="2.0"/><rect x="523.1" y="956.6" width="5" height="3.9"/><rect x="527.2" y="937.9" width="5" height="2.3"/><rect x="527.2" y="956.6" width="5" height="3.6"/><rect x="529.5" y="938.6" width="5" height="1.6"/><rect x="529.5" y="956.6" width="5" height="3.5"/><rect x="531.6" y="937.9" width="5" height="2.3"/><rect x="531.6" y="956.6" width="5" height="1.5"/><rect x="534.5" y="936.7" width="5" height="3.5"/><rect x="534.5" y="956.6" width="5" height="3.3"/><rect x="537.9" y="935.4" width="5" height="4.8"/><rect x="537.9" y="956.6" width="5" height="3.3"/><rect x="540.6" y="938.5" width="5" height="1.7"/><rect x="540.6" y="956.6" width="5" height="6.6"/><rect x="543.2" y="937.0" width="5" height="3.2"/><rect x="543.2" y="956.6" width="5" height="4.5"/><rect x="546.8" y="936.4" width="5" height="3.8"/><rect x="546.8" y="956.6" width="5" height="6.9"/><rect x="549.9" y="935.3" width="5" height="4.9"/><rect x="549.9" y="956.6" width="5" height="1.4"/><rect x="553.1" y="937.1" width="5" height="3.1"/><rect x="553.1" y="956.6" width="5" height="2.7"/><rect x="555.2" y="938.2" width="5" height="2.0"/><rect x="555.2" y="956.6" width="5" height="1.8"/><rect x="557.6" y="936.5" width="5" height="3.7"/><rect x="557.6" y="956.6" width="5" height="2.6"/><rect x="560.3" y="936.1" width="5" height="4.1"/><rect x="560.3" y="956.6" width="5" height="7.7"/><rect x="563.5" y="938.2" width="5" height="2.0"/><rect x="563.5" y="956.6" width="5" height="2.1"/><rect x="565.7" y="938.3" width="5" height="1.9"/><rect x="565.7" y="956.6" width="5" height="2.5"/><rect x="567.8" y="937.2" width="5" height="3.0"/><rect x="567.8" y="956.6" width="5" height="2.0"/><rect x="570.1" y="936.1" width="5" height="4.1"/><rect x="570.1" y="956.6" width="5" height="2.0"/><rect x="574.1" y="938.7" width="5" height="1.5"/><rect x="574.1" y="956.6" width="5" height="1.9"/><rect x="576.8" y="937.7" width="5" height="2.5"/><rect x="576.8" y="956.6" width="5" height="5.3"/><rect x="581.2" y="937.6" width="5" height="2.6"/><rect x="581.2" y="956.6" width="5" height="2.5"/><rect x="585.2" y="936.6" width="5" height="3.6"/><rect x="585.2" y="956.6" width="5" height="1.9"/><rect x="589.6" y="937.9" width="5" height="2.3"/><rect x="589.6" y="956.6" width="5" height="2.4"/><rect x="592.0" y="938.8" width="5" height="1.4"/><rect x="592.0" y="956.6" width="5" height="4.7"/><rect x="595.7" y="938.6" width="5" height="1.6"/><rect x="595.7" y="956.6" width="5" height="3.5"/><rect x="598.2" y="937.8" width="5" height="2.4"/><rect x="598.2" y="956.6" width="5" height="3.4"/><rect x="601.1" y="936.5" width="5" height="3.7"/><rect x="601.1" y="956.6" width="5" height="6.1"/><rect x="604.8" y="936.6" width="5" height="3.6"/><rect x="604.8" y="956.6" width="5" height="2.9"/><rect x="609.0" y="936.9" width="5" height="3.3"/><rect x="609.0" y="956.6" width="5" height="1.7"/><rect x="612.1" y="937.0" width="5" height="3.2"/><rect x="612.1" y="956.6" width="5" height="3.5"/><rect x="616.2" y="938.0" width="5" height="2.2"/><rect x="616.2" y="956.6" width="5" height="4.2"/><rect x="619.8" y="938.9" width="5" height="1.3"/><rect x="619.8" y="956.6" width="5" height="3.0"/><rect x="624.1" y="938.3" width="5" height="1.9"/><rect x="624.1" y="956.6" width="5" height="3.1"/><rect x="627.7" y="938.2" width="5" height="2.0"/><rect x="627.7" y="956.6" width="5" height="1.8"/><rect x="630.2" y="937.6" width="5" height="2.6"/><rect x="630.2" y="956.6" width="5" height="2.6"/><rect x="633.0" y="937.5" width="5" height="2.7"/><rect x="633.0" y="956.6" width="5" height="4.8"/><rect x="637.0" y="938.3" width="5" height="1.9"/><rect x="637.0" y="956.6" width="5" height="5.5"/><rect x="640.5" y="936.7" width="5" height="3.5"/><rect x="640.5" y="956.6" width="5" height="1.5"/><rect x="642.6" y="937.3" width="5" height="2.9"/><rect x="642.6" y="956.6" width="5" height="2.2"/><rect x="646.9" y="937.1" width="5" height="3.1"/><rect x="646.9" y="956.6" width="5" height="3.2"/><rect x="649.1" y="938.1" width="5" height="2.1"/><rect x="649.1" y="956.6" width="5" height="1.6"/><rect x="651.5" y="936.3" width="5" height="3.9"/><rect x="651.5" y="956.6" width="5" height="1.4"/><rect x="655.4" y="937.5" width="5" height="2.7"/><rect x="655.4" y="956.6" width="5" height="3.1"/><rect x="657.8" y="936.9" width="5" height="3.3"/><rect x="657.8" y="956.6" width="5" height="1.7"/><rect x="661.5" y="935.7" width="5" height="4.5"/><rect x="661.5" y="956.6" width="5" height="2.8"/><rect x="663.9" y="937.8" width="5" height="2.4"/><rect x="663.9" y="956.6" width="5" height="1.6"/><rect x="667.0" y="936.4" width="5" height="3.8"/><rect x="667.0" y="956.6" width="5" height="1.9"/><rect x="669.8" y="934.3" width="5" height="5.9"/><rect x="669.8" y="956.6" width="5" height="4.3"/><rect x="674.0" y="937.5" width="5" height="2.7"/><rect x="674.0" y="956.6" width="5" height="2.0"/><rect x="677.7" y="936.8" width="5" height="3.4"/><rect x="677.7" y="956.6" width="5" height="2.6"/><rect x="680.3" y="938.5" width="5" height="1.7"/><rect x="680.3" y="956.6" width="5" height="2.1"/><rect x="683.6" y="938.8" width="5" height="1.4"/><rect x="683.6" y="956.6" width="5" height="1.4"/><rect x="686.6" y="936.9" width="5" height="3.3"/><rect x="686.6" y="956.6" width="5" height="4.4"/><rect x="690.5" y="937.0" width="5" height="3.2"/><rect x="690.5" y="956.6" width="5" height="5.6"/><rect x="692.9" y="938.4" width="5" height="1.8"/><rect x="692.9" y="956.6" width="5" height="5.6"/><rect x="695.2" y="938.0" width="5" height="2.2"/><rect x="695.2" y="956.6" width="5" height="2.5"/><rect x="699.2" y="936.9" width="5" height="3.3"/><rect x="699.2" y="956.6" width="5" height="2.2"/><rect x="702.3" y="937.7" width="5" height="2.5"/><rect x="702.3" y="956.6" width="5" height="4.2"/><rect x="704.7" y="937.0" width="5" height="3.2"/><rect x="704.7" y="956.6" width="5" height="3.5"/><rect x="707.7" y="933.2" width="5" height="7.0"/><rect x="707.7" y="956.6" width="5" height="2.7"/><rect x="710.5" y="937.2" width="5" height="3.0"/><rect x="710.5" y="956.6" width="5" height="3.3"/><rect x="712.9" y="938.6" width="5" height="1.6"/><rect x="712.9" y="956.6" width="5" height="1.5"/><rect x="716.7" y="938.7" width="5" height="1.5"/><rect x="716.7" y="956.6" width="5" height="2.1"/><rect x="720.7" y="938.8" width="5" height="1.4"/><rect x="720.7" y="956.6" width="5" height="3.0"/><rect x="723.8" y="938.5" width="5" height="1.7"/><rect x="723.8" y="956.6" width="5" height="2.8"/><rect x="727.4" y="934.3" width="5" height="5.9"/><rect x="727.4" y="956.6" width="5" height="2.5"/><rect x="729.9" y="938.6" width="5" height="1.6"/><rect x="729.9" y="956.6" width="5" height="2.3"/><rect x="733.9" y="938.3" width="5" height="1.9"/><rect x="733.9" y="956.6" width="5" height="2.5"/><rect x="737.2" y="937.3" width="5" height="2.9"/><rect x="737.2" y="956.6" width="5" height="1.8"/><rect x="741.6" y="933.8" width="5" height="6.4"/><rect x="741.6" y="956.6" width="5" height="3.4"/><rect x="744.4" y="936.5" width="5" height="3.7"/><rect x="744.4" y="956.6" width="5" height="2.0"/><rect x="747.4" y="934.5" width="5" height="5.7"/><rect x="747.4" y="956.6" width="5" height="2.0"/></g>
</g>
<rect x="90.9" y="14.3" width="658.5" height="530.2" fill="none" stroke="#000" stroke-width="2.6"/>
<path d="M90.90 544.50v10.2M123.83 544.50v5.2M123.83 14.30v5.2M156.75 544.50v10.2M156.75 14.30v10.2M189.68 544.50v5.2M189.68 14.30v5.2M222.60 544.50v10.2M222.60 14.30v10.2M255.53 544.50v5.2M255.53 14.30v5.2M288.45 544.50v10.2M288.45 14.30v10.2M321.38 544.50v5.2M321.38 14.30v5.2M354.30 544.50v10.2M354.30 14.30v10.2M387.23 544.50v5.2M387.23 14.30v5.2M420.15 544.50v10.2M420.15 14.30v10.2M453.08 544.50v5.2M453.08 14.30v5.2M486.00 544.50v10.2M486.00 14.30v10.2M518.92 544.50v5.2M518.92 14.30v5.2M551.85 544.50v10.2M551.85 14.30v10.2M584.77 544.50v5.2M584.77 14.30v5.2M617.70 544.50v10.2M617.70 14.30v10.2M650.62 544.50v5.2M650.62 14.30v5.2M683.55 544.50v10.2M683.55 14.30v10.2M716.48 544.50v5.2M716.48 14.30v5.2M749.40 544.50v10.2M90.90 544.50h-10.6M90.90 500.32h-5.2M90.90 456.13h-10.6M90.90 411.95h-5.2M90.90 367.77h-10.6M90.90 323.58h-5.2M90.90 279.40h-10.6M90.90 235.22h-5.2M90.90 191.03h-10.6M90.90 146.85h-5.2M90.90 102.67h-10.6M90.90 58.48h-5.2M90.90 14.30h-10.6" stroke="#000" stroke-width="2.6" fill="none"/>
<text transform="translate(90.90 587.30) scale(1 1.055)" font-size="32" text-anchor="middle">0</text>
<text transform="translate(156.75 587.30) scale(1 1.055)" font-size="32" text-anchor="middle">20</text>
<text transform="translate(222.60 587.30) scale(1 1.055)" font-size="32" text-anchor="middle">40</text>
<text transform="translate(288.45 587.30) scale(1 1.055)" font-size="32" text-anchor="middle">60</text>
<text transform="translate(354.30 587.30) scale(1 1.055)" font-size="32" text-anchor="middle">80</text>
<text transform="translate(420.15 587.30) scale(1 1.055)" font-size="32" text-anchor="middle">100</text>
<text transform="translate(486.00 587.30) scale(1 1.055)" font-size="32" text-anchor="middle">120</text>
<text transform="translate(551.85 587.30) scale(1 1.055)" font-size="32" text-anchor="middle">140</text>
<text transform="translate(617.70 587.30) scale(1 1.055)" font-size="32" text-anchor="middle">160</text>
<text transform="translate(683.55 587.30) scale(1 1.055)" font-size="32" text-anchor="middle">180</text>
<text transform="translate(749.40 587.30) scale(1 1.055)" font-size="32" text-anchor="middle">200</text>
<text transform="translate(73.00 554.30) scale(1 1.055)" font-size="32" text-anchor="end">−6</text>
<text transform="translate(73.00 465.93) scale(1 1.055)" font-size="32" text-anchor="end">−4</text>
<text transform="translate(73.00 377.57) scale(1 1.055)" font-size="32" text-anchor="end">−2</text>
<text transform="translate(73.00 289.20) scale(1 1.055)" font-size="32" text-anchor="end">0</text>
<text transform="translate(73.00 200.83) scale(1 1.055)" font-size="32" text-anchor="end">2</text>
<text transform="translate(73.00 112.47) scale(1 1.055)" font-size="32" text-anchor="end">4</text>
<text transform="translate(73.00 24.10) scale(1 1.055)" font-size="32" text-anchor="end">6</text>
<text transform="translate(419.20 641.80) scale(1 1.06)" font-size="31.9" text-anchor="middle">Time (s)</text>
<text transform="translate(24.30 282.60) rotate(-90) scale(1 1.04)" font-size="31.9" text-anchor="middle">Angular Deviation (μrad)</text>
<text transform="translate(97.70 48.90) scale(1 1.0)" font-size="26.8">(a)</text>
<rect x="399.90" y="484.40" width="6" height="6" fill="#000"/>
<circle cx="402.90" cy="521.60" r="3.4" fill="#f00"/>
<text transform="translate(440.50 496.40) scale(1 1.04)" font-size="26.8">No Control - Horizontal</text>
<text transform="translate(440.50 530.60) scale(1 1.04)" font-size="26.8">No Control - Vertical</text>
<rect x="90.9" y="683.0" width="658.5" height="530.2" fill="none" stroke="#000" stroke-width="2.6"/>
<path d="M90.90 1213.20v10.2M123.83 1213.20v5.2M123.83 683.00v5.2M156.75 1213.20v10.2M156.75 683.00v10.2M189.68 1213.20v5.2M189.68 683.00v5.2M222.60 1213.20v10.2M222.60 683.00v10.2M255.53 1213.20v5.2M255.53 683.00v5.2M288.45 1213.20v10.2M288.45 683.00v10.2M321.38 1213.20v5.2M321.38 683.00v5.2M354.30 1213.20v10.2M354.30 683.00v10.2M387.23 1213.20v5.2M387.23 683.00v5.2M420.15 1213.20v10.2M420.15 683.00v10.2M453.08 1213.20v5.2M453.08 683.00v5.2M486.00 1213.20v10.2M486.00 683.00v10.2M518.92 1213.20v5.2M518.92 683.00v5.2M551.85 1213.20v10.2M551.85 683.00v10.2M584.77 1213.20v5.2M584.77 683.00v5.2M617.70 1213.20v10.2M617.70 683.00v10.2M650.62 1213.20v5.2M650.62 683.00v5.2M683.55 1213.20v10.2M683.55 683.00v10.2M716.48 1213.20v5.2M716.48 683.00v5.2M749.40 1213.20v10.2M90.90 1213.20h-10.6M90.90 1169.02h-5.2M90.90 1124.83h-10.6M90.90 1080.65h-5.2M90.90 1036.47h-10.6M90.90 992.28h-5.2M90.90 948.10h-10.6M90.90 903.92h-5.2M90.90 859.73h-10.6M90.90 815.55h-5.2M90.90 771.37h-10.6M90.90 727.18h-5.2M90.90 683.00h-10.6" stroke="#000" stroke-width="2.6" fill="none"/>
<text transform="translate(90.90 1256.00) scale(1 1.055)" font-size="32" text-anchor="middle">0</text>
<text transform="translate(156.75 1256.00) scale(1 1.055)" font-size="32" text-anchor="middle">20</text>
<text transform="translate(222.60 1256.00) scale(1 1.055)" font-size="32" text-anchor="middle">40</text>
<text transform="translate(288.45 1256.00) scale(1 1.055)" font-size="32" text-anchor="middle">60</text>
<text transform="translate(354.30 1256.00) scale(1 1.055)" font-size="32" text-anchor="middle">80</text>
<text transform="translate(420.15 1256.00) scale(1 1.055)" font-size="32" text-anchor="middle">100</text>
<text transform="translate(486.00 1256.00) scale(1 1.055)" font-size="32" text-anchor="middle">120</text>
<text transform="translate(551.85 1256.00) scale(1 1.055)" font-size="32" text-anchor="middle">140</text>
<text transform="translate(617.70 1256.00) scale(1 1.055)" font-size="32" text-anchor="middle">160</text>
<text transform="translate(683.55 1256.00) scale(1 1.055)" font-size="32" text-anchor="middle">180</text>
<text transform="translate(749.40 1256.00) scale(1 1.055)" font-size="32" text-anchor="middle">200</text>
<text transform="translate(73.00 1223.00) scale(1 1.055)" font-size="32" text-anchor="end">−6</text>
<text transform="translate(73.00 1134.63) scale(1 1.055)" font-size="32" text-anchor="end">−4</text>
<text transform="translate(73.00 1046.27) scale(1 1.055)" font-size="32" text-anchor="end">−2</text>
<text transform="translate(73.00 957.90) scale(1 1.055)" font-size="32" text-anchor="end">0</text>
<text transform="translate(73.00 869.53) scale(1 1.055)" font-size="32" text-anchor="end">2</text>
<text transform="translate(73.00 781.17) scale(1 1.055)" font-size="32" text-anchor="end">4</text>
<text transform="translate(73.00 692.80) scale(1 1.055)" font-size="32" text-anchor="end">6</text>
<text transform="translate(419.20 1310.50) scale(1 1.06)" font-size="31.9" text-anchor="middle">Time (s)</text>
<text transform="translate(24.30 951.30) rotate(-90) scale(1 1.04)" font-size="31.9" text-anchor="middle">Angular Deviation (μrad)</text>
<text transform="translate(97.70 717.60) scale(1 1.0)" font-size="26.8">(b)</text>
<rect x="354.00" y="1154.00" width="6" height="6" fill="#000"/>
<circle cx="357.00" cy="1191.00" r="3.4" fill="#f00"/>
<text transform="translate(394.30 1166.00) scale(1 1.04)" font-size="26.8">Active Control - Horizontal</text>
<text transform="translate(394.30 1200.00) scale(1 1.04)" font-size="26.8">Active Control - Vertical</text>
</svg>
</body></html>
